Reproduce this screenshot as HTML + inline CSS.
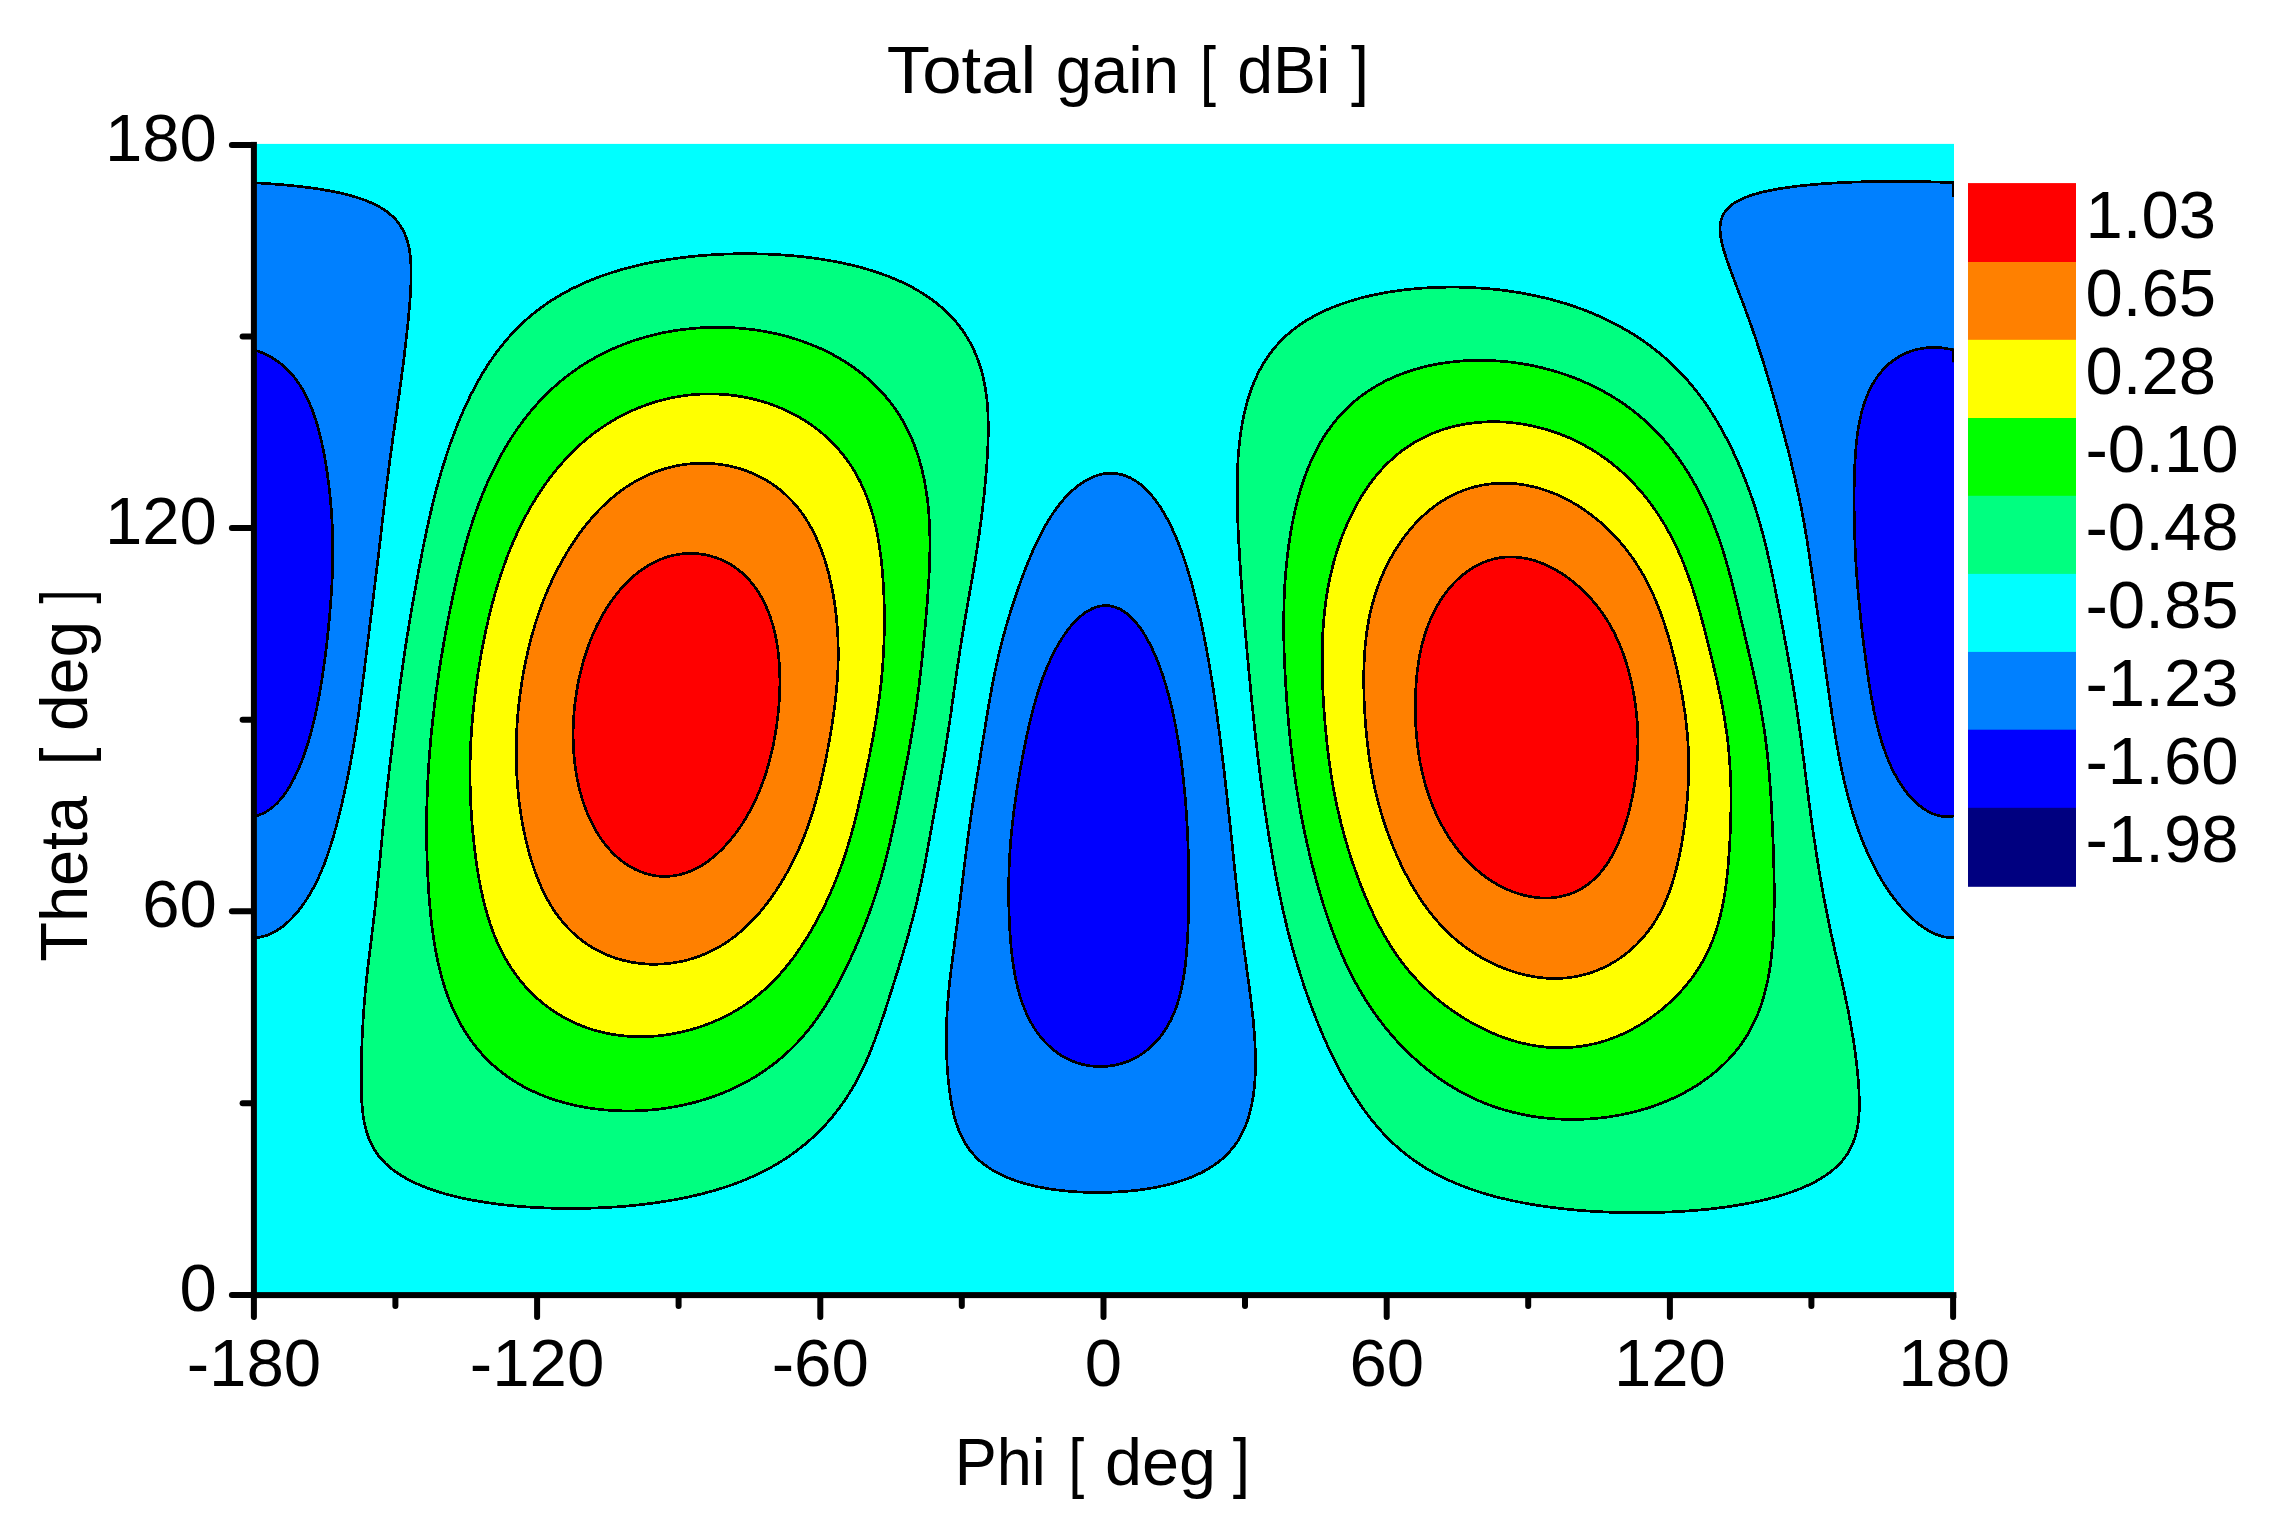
<!DOCTYPE html>
<html lang="en"><head><meta charset="utf-8"><title>Total gain [ dBi ]</title>
<style>html,body{margin:0;padding:0;background:#fff}body{width:2271px;height:1521px;overflow:hidden}svg{display:block}text{font-family:"Liberation Sans",sans-serif;fill:#000}</style></head><body>
<svg width="2271" height="1521" viewBox="0 0 2271 1521">
<rect width="2271" height="1521" fill="#fff"/>
<defs><clipPath id="pc"><rect x="251" y="143.9" width="1703" height="1148.6"/></clipPath></defs>
<rect x="254" y="143.9" width="1700" height="1150.6" fill="#00FFFF"/>
<g clip-path="url(#pc)" stroke="#000" stroke-width="2.7" stroke-linejoin="round" shape-rendering="crispEdges">
<path d="M606.0 1207.5C603.0 1207.7 600.0 1207.8 597.0 1207.9C594.0 1208.1 591.0 1208.2 588.0 1208.2C585.0 1208.3 582.0 1208.4 579.0 1208.4C576.0 1208.4 573.0 1208.5 570.0 1208.4C567.0 1208.4 564.0 1208.4 561.0 1208.4C558.0 1208.3 555.0 1208.3 552.0 1208.2C549.0 1208.1 546.0 1208.0 543.0 1207.8C540.0 1207.7 537.0 1207.6 534.0 1207.4C531.0 1207.2 528.0 1207.0 525.0 1206.8C522.0 1206.6 519.0 1206.3 516.0 1206.1C513.0 1205.8 510.0 1205.5 507.0 1205.2C504.1 1204.9 501.1 1204.5 498.1 1204.1C495.1 1203.8 492.1 1203.4 489.2 1202.9C486.2 1202.5 483.2 1202.0 480.3 1201.5C477.3 1201.0 474.3 1200.5 471.4 1200.0C468.4 1199.4 465.5 1198.8 462.6 1198.2C459.6 1197.5 456.7 1196.8 453.8 1196.1C450.9 1195.4 448.0 1194.6 445.1 1193.8C442.2 1193.0 439.3 1192.1 436.5 1191.2C433.6 1190.3 430.8 1189.3 427.9 1188.3C425.1 1187.2 422.3 1186.1 419.6 1184.9C416.8 1183.8 414.1 1182.5 411.4 1181.2C408.7 1179.8 406.1 1178.4 403.5 1176.9C400.9 1175.4 398.3 1173.8 395.9 1172.0C393.5 1170.3 391.1 1168.4 388.8 1166.5C386.5 1164.5 384.4 1162.4 382.4 1160.2C380.3 1158.0 378.4 1155.6 376.7 1153.2C375.0 1150.7 373.4 1148.1 372.0 1145.5C370.7 1142.8 369.5 1140.1 368.4 1137.2C367.3 1134.4 366.5 1131.6 365.7 1128.7C364.9 1125.8 364.4 1122.8 363.8 1119.8C363.3 1116.9 362.9 1113.9 362.6 1110.9C362.3 1107.9 362.0 1104.9 361.8 1101.9C361.6 1098.9 361.5 1095.9 361.4 1092.9C361.3 1089.9 361.3 1086.9 361.2 1083.9C361.2 1080.9 361.2 1077.9 361.2 1074.9C361.2 1071.9 361.3 1068.9 361.3 1065.9C361.4 1062.9 361.4 1059.9 361.5 1056.9C361.6 1053.9 361.7 1050.9 361.8 1047.9C361.9 1044.9 362.0 1041.9 362.1 1038.9C362.3 1035.9 362.4 1032.9 362.6 1029.9C362.7 1026.9 362.9 1023.9 363.1 1020.9C363.2 1017.9 363.4 1014.9 363.6 1011.9C363.9 1008.9 364.1 1005.9 364.3 1002.9C364.6 1000.0 364.8 997.0 365.1 994.0C365.4 991.0 365.7 988.0 366.0 985.0C366.3 982.0 366.6 979.0 366.9 976.0C367.3 973.1 367.6 970.1 367.9 967.1C368.3 964.1 368.6 961.1 369.0 958.2C369.4 955.2 369.7 952.2 370.1 949.2C370.5 946.2 370.8 943.2 371.2 940.3C371.6 937.3 371.9 934.3 372.3 931.3C372.7 928.3 373.0 925.4 373.4 922.4C373.7 919.4 374.1 916.4 374.4 913.4C374.8 910.5 375.1 907.5 375.4 904.5C375.8 901.5 376.1 898.5 376.4 895.5C376.7 892.5 377.0 889.6 377.3 886.6C377.6 883.6 377.9 880.6 378.2 877.6C378.5 874.6 378.8 871.6 379.1 868.6C379.4 865.6 379.7 862.7 380.0 859.7C380.2 856.7 380.5 853.7 380.8 850.7C381.1 847.7 381.4 844.7 381.7 841.7C381.9 838.7 382.2 835.8 382.5 832.8C382.8 829.8 383.1 826.8 383.4 823.8C383.7 820.8 384.0 817.8 384.3 814.8C384.6 811.9 384.9 808.9 385.3 805.9C385.6 802.9 385.9 799.9 386.2 796.9C386.6 793.9 386.9 791.0 387.2 788.0C387.6 785.0 387.9 782.0 388.3 779.0C388.6 776.0 389.0 773.1 389.3 770.1C389.7 767.1 390.0 764.1 390.4 761.1C390.7 758.1 391.1 755.2 391.5 752.2C391.8 749.2 392.2 746.2 392.6 743.2C392.9 740.3 393.3 737.3 393.7 734.3C394.0 731.3 394.4 728.3 394.8 725.4C395.2 722.4 395.6 719.4 395.9 716.4C396.3 713.5 396.7 710.5 397.1 707.5C397.5 704.5 397.9 701.5 398.2 698.6C398.6 695.6 399.0 692.6 399.4 689.6C399.8 686.7 400.2 683.7 400.6 680.7C401.1 677.7 401.5 674.8 401.9 671.8C402.3 668.8 402.7 665.8 403.2 662.9C403.6 659.9 404.0 656.9 404.5 654.0C404.9 651.0 405.4 648.0 405.8 645.0C406.3 642.1 406.8 639.1 407.2 636.1C407.7 633.2 408.2 630.2 408.7 627.3C409.1 624.3 409.6 621.3 410.1 618.4C410.6 615.4 411.1 612.4 411.6 609.5C412.1 606.5 412.7 603.6 413.2 600.6C413.7 597.7 414.2 594.7 414.8 591.7C415.3 588.8 415.8 585.8 416.4 582.9C416.9 579.9 417.4 577.0 418.0 574.0C418.5 571.1 419.1 568.1 419.7 565.2C420.2 562.2 420.8 559.3 421.4 556.3C421.9 553.4 422.5 550.4 423.1 547.5C423.7 544.5 424.3 541.6 424.9 538.7C425.5 535.7 426.1 532.8 426.8 529.8C427.4 526.9 428.0 524.0 428.7 521.0C429.4 518.1 430.0 515.2 430.7 512.3C431.4 509.3 432.1 506.4 432.8 503.5C433.5 500.6 434.2 497.7 435.0 494.8C435.7 491.8 436.5 488.9 437.3 486.0C438.0 483.1 438.8 480.2 439.7 477.4C440.5 474.5 441.3 471.6 442.2 468.7C443.1 465.8 443.9 463.0 444.9 460.1C445.8 457.2 446.7 454.4 447.7 451.5C448.6 448.7 449.6 445.9 450.6 443.0C451.6 440.2 452.6 437.4 453.7 434.6C454.7 431.7 455.8 428.9 456.9 426.2C458.0 423.4 459.2 420.6 460.3 417.8C461.5 415.0 462.7 412.3 463.9 409.5C465.1 406.8 466.4 404.1 467.7 401.4C468.9 398.6 470.3 395.9 471.6 393.3C473.0 390.6 474.4 387.9 475.8 385.3C477.2 382.6 478.7 380.0 480.2 377.4C481.7 374.8 483.2 372.2 484.8 369.7C486.4 367.1 488.0 364.6 489.7 362.1C491.4 359.6 493.1 357.2 494.8 354.7C496.6 352.3 498.4 349.9 500.2 347.5C502.1 345.2 504.0 342.8 505.9 340.5C507.9 338.3 509.9 336.0 511.9 333.8C514.0 331.6 516.0 329.4 518.2 327.3C520.3 325.2 522.5 323.1 524.7 321.1C526.9 319.1 529.2 317.1 531.5 315.2C533.8 313.3 536.2 311.4 538.5 309.6C540.9 307.8 543.4 306.0 545.8 304.3C548.3 302.6 550.8 300.9 553.3 299.3C555.9 297.7 558.4 296.2 561.0 294.7C563.6 293.2 566.3 291.7 568.9 290.3C571.6 288.9 574.3 287.6 577.0 286.3C579.7 285.0 582.4 283.7 585.2 282.5C587.9 281.3 590.7 280.2 593.5 279.1C596.3 278.0 599.1 276.9 601.9 275.9C604.8 274.9 607.6 273.9 610.5 273.0C613.3 272.1 616.2 271.2 619.1 270.3C621.9 269.5 624.8 268.7 627.7 267.9C630.6 267.1 633.6 266.4 636.5 265.7C639.4 265.0 642.3 264.4 645.3 263.7C648.2 263.1 651.1 262.5 654.1 261.9C657.0 261.4 660.0 260.9 663.0 260.4C665.9 259.9 668.9 259.4 671.9 259.0C674.8 258.5 677.8 258.1 680.8 257.8C683.8 257.4 686.7 257.0 689.7 256.7C692.7 256.4 695.7 256.1 698.7 255.8C701.7 255.6 704.7 255.3 707.7 255.1C710.7 254.9 713.7 254.7 716.7 254.5C719.7 254.4 722.7 254.2 725.7 254.1C728.7 254.0 731.7 253.9 734.7 253.8C737.7 253.8 740.7 253.7 743.7 253.7C746.7 253.7 749.7 253.7 752.7 253.8C755.7 253.8 758.7 253.9 761.7 254.0C764.7 254.0 767.7 254.1 770.7 254.3C773.7 254.4 776.7 254.6 779.7 254.8C782.7 255.0 785.7 255.2 788.7 255.4C791.7 255.7 794.7 255.9 797.6 256.2C800.6 256.5 803.6 256.9 806.6 257.2C809.6 257.6 812.6 258.0 815.5 258.4C818.5 258.8 821.5 259.2 824.4 259.7C827.4 260.2 830.4 260.7 833.3 261.2C836.3 261.8 839.2 262.4 842.2 263.0C845.1 263.6 848.0 264.3 851.0 264.9C853.9 265.6 856.8 266.4 859.7 267.1C862.6 267.9 865.5 268.7 868.4 269.6C871.2 270.4 874.1 271.3 876.9 272.3C879.8 273.3 882.6 274.2 885.4 275.3C888.3 276.3 891.1 277.4 893.8 278.6C896.6 279.8 899.3 281.0 902.1 282.2C904.8 283.5 907.5 284.8 910.1 286.2C912.8 287.6 915.4 289.1 918.0 290.6C920.6 292.1 923.2 293.7 925.7 295.4C928.2 297.0 930.6 298.7 933.0 300.5C935.4 302.3 937.8 304.2 940.1 306.1C942.4 308.1 944.6 310.1 946.8 312.2C948.9 314.2 951.0 316.4 953.1 318.6C955.1 320.8 957.0 323.1 958.9 325.5C960.7 327.9 962.5 330.3 964.2 332.8C965.8 335.3 967.4 337.8 968.9 340.4C970.4 343.0 971.8 345.7 973.1 348.4C974.4 351.1 975.6 353.9 976.7 356.6C977.8 359.4 978.9 362.3 979.8 365.1C980.7 368.0 981.6 370.9 982.3 373.8C983.1 376.7 983.7 379.6 984.3 382.6C984.9 385.5 985.4 388.5 985.8 391.4C986.3 394.4 986.7 397.4 987.0 400.4C987.3 403.4 987.5 406.3 987.7 409.3C987.9 412.3 988.0 415.3 988.1 418.3C988.2 421.3 988.3 424.3 988.3 427.3C988.3 430.4 988.3 433.4 988.2 436.4C988.1 439.4 988.0 442.4 987.9 445.4C987.8 448.4 987.7 451.4 987.5 454.4C987.3 457.4 987.1 460.4 986.9 463.3C986.7 466.3 986.5 469.3 986.2 472.3C986.0 475.3 985.7 478.3 985.4 481.3C985.2 484.3 984.9 487.3 984.6 490.3C984.3 493.3 984.0 496.2 983.6 499.2C983.3 502.2 983.0 505.2 982.6 508.2C982.2 511.2 981.9 514.1 981.5 517.1C981.1 520.1 980.7 523.1 980.3 526.1C979.9 529.0 979.5 532.0 979.1 535.0C978.7 538.0 978.2 540.9 977.8 543.9C977.3 546.9 976.9 549.8 976.4 552.8C976.0 555.8 975.5 558.7 975.0 561.7C974.5 564.7 974.0 567.6 973.5 570.6C973.0 573.5 972.5 576.5 972.0 579.5C971.5 582.4 971.0 585.4 970.4 588.3C969.9 591.3 969.4 594.2 968.9 597.2C968.4 600.2 967.8 603.1 967.3 606.1C966.8 609.0 966.3 612.0 965.8 614.9C965.3 617.9 964.8 620.9 964.3 623.8C963.8 626.8 963.3 629.8 962.8 632.7C962.3 635.7 961.8 638.6 961.4 641.6C960.9 644.6 960.4 647.5 960.0 650.5C959.5 653.5 959.1 656.4 958.6 659.4C958.2 662.4 957.7 665.4 957.3 668.3C956.9 671.3 956.5 674.3 956.0 677.2C955.6 680.2 955.2 683.2 954.8 686.2C954.3 689.1 953.9 692.1 953.5 695.1C953.1 698.1 952.7 701.0 952.2 704.0C951.8 707.0 951.4 710.0 951.0 712.9C950.5 715.9 950.1 718.9 949.7 721.8C949.2 724.8 948.8 727.8 948.3 730.7C947.8 733.7 947.4 736.7 946.9 739.6C946.4 742.6 946.0 745.6 945.5 748.5C945.0 751.5 944.5 754.5 944.0 757.4C943.5 760.4 943.0 763.3 942.5 766.3C942.0 769.3 941.5 772.2 940.9 775.2C940.4 778.1 939.9 781.1 939.4 784.1C938.9 787.0 938.3 790.0 937.8 792.9C937.3 795.9 936.7 798.8 936.2 801.8C935.7 804.7 935.1 807.7 934.6 810.7C934.1 813.6 933.6 816.6 933.0 819.5C932.5 822.5 932.0 825.4 931.4 828.4C930.9 831.3 930.4 834.3 929.8 837.3C929.3 840.2 928.8 843.2 928.2 846.1C927.7 849.1 927.1 852.0 926.6 855.0C926.0 857.9 925.5 860.9 924.9 863.8C924.3 866.8 923.8 869.7 923.2 872.7C922.6 875.6 922.0 878.6 921.4 881.5C920.8 884.4 920.1 887.4 919.5 890.3C918.8 893.2 918.2 896.2 917.5 899.1C916.8 902.0 916.1 904.9 915.4 907.9C914.7 910.8 914.0 913.7 913.2 916.6C912.5 919.5 911.7 922.4 910.9 925.3C910.2 928.2 909.4 931.1 908.6 934.0C907.8 936.9 906.9 939.8 906.1 942.7C905.3 945.5 904.4 948.4 903.6 951.3C902.7 954.2 901.9 957.1 901.0 959.9C900.1 962.8 899.3 965.7 898.4 968.6C897.5 971.4 896.6 974.3 895.7 977.2C894.8 980.0 893.9 982.9 893.0 985.8C892.1 988.6 891.2 991.5 890.3 994.3C889.4 997.2 888.5 1000.1 887.6 1002.9C886.6 1005.8 885.7 1008.6 884.8 1011.5C883.8 1014.3 882.9 1017.2 881.9 1020.0C880.9 1022.9 880.0 1025.7 879.0 1028.5C878.0 1031.4 876.9 1034.2 875.9 1037.0C874.9 1039.8 873.8 1042.7 872.7 1045.4C871.6 1048.2 870.5 1051.0 869.4 1053.8C868.2 1056.6 867.0 1059.3 865.8 1062.1C864.6 1064.8 863.3 1067.5 862.0 1070.2C860.7 1072.9 859.3 1075.6 857.9 1078.3C856.5 1080.9 855.1 1083.6 853.6 1086.2C852.1 1088.8 850.5 1091.3 848.9 1093.9C847.3 1096.4 845.7 1098.9 844.0 1101.4C842.3 1103.9 840.5 1106.3 838.7 1108.7C836.9 1111.1 835.1 1113.5 833.2 1115.8C831.3 1118.2 829.3 1120.4 827.3 1122.7C825.3 1124.9 823.3 1127.1 821.2 1129.3C819.1 1131.4 816.9 1133.5 814.8 1135.6C812.6 1137.6 810.3 1139.6 808.1 1141.6C805.8 1143.6 803.5 1145.5 801.1 1147.3C798.8 1149.2 796.4 1151.0 793.9 1152.8C791.5 1154.6 789.0 1156.3 786.5 1157.9C784.0 1159.6 781.5 1161.2 778.9 1162.8C776.4 1164.3 773.8 1165.8 771.1 1167.3C768.5 1168.7 765.9 1170.1 763.2 1171.5C760.5 1172.8 757.8 1174.2 755.1 1175.4C752.3 1176.7 749.6 1177.9 746.8 1179.0C744.1 1180.2 741.3 1181.3 738.5 1182.4C735.7 1183.5 732.8 1184.5 730.0 1185.5C727.2 1186.5 724.3 1187.4 721.5 1188.3C718.6 1189.2 715.7 1190.1 712.8 1190.9C709.9 1191.7 707.0 1192.5 704.1 1193.3C701.2 1194.0 698.3 1194.7 695.4 1195.4C692.5 1196.1 689.5 1196.8 686.6 1197.4C683.7 1198.0 680.7 1198.6 677.8 1199.1C674.8 1199.7 671.9 1200.2 668.9 1200.7C665.9 1201.2 663.0 1201.7 660.0 1202.1C657.0 1202.6 654.1 1203.0 651.1 1203.4C648.1 1203.8 645.1 1204.2 642.1 1204.5C639.2 1204.8 636.2 1205.2 633.2 1205.4C630.2 1205.7 627.2 1206.0 624.2 1206.3C621.2 1206.5 618.3 1206.7 615.2 1207.0C612.2 1207.2 609.0 1207.3 606.0 1207.5Z" fill="#00FF80"/>
<path d="M1655.0 1212.5C1652.0 1212.6 1649.0 1212.6 1646.0 1212.7C1643.0 1212.7 1640.0 1212.7 1637.0 1212.7C1634.0 1212.7 1631.0 1212.7 1628.0 1212.6C1625.0 1212.6 1622.0 1212.5 1619.0 1212.5C1616.0 1212.4 1613.0 1212.3 1610.0 1212.2C1607.0 1212.1 1604.0 1211.9 1601.0 1211.8C1598.0 1211.6 1595.0 1211.4 1592.0 1211.3C1589.0 1211.1 1586.0 1210.8 1583.0 1210.6C1580.0 1210.4 1577.0 1210.1 1574.0 1209.9C1571.0 1209.6 1568.0 1209.3 1565.0 1209.0C1562.0 1208.6 1559.1 1208.3 1556.1 1207.9C1553.1 1207.6 1550.1 1207.2 1547.1 1206.8C1544.2 1206.4 1541.2 1205.9 1538.2 1205.5C1535.3 1205.0 1532.3 1204.5 1529.3 1204.0C1526.4 1203.5 1523.4 1202.9 1520.5 1202.3C1517.5 1201.8 1514.6 1201.2 1511.7 1200.5C1508.7 1199.9 1505.8 1199.2 1502.9 1198.5C1500.0 1197.8 1497.0 1197.1 1494.1 1196.3C1491.2 1195.5 1488.3 1194.7 1485.5 1193.8C1482.6 1193.0 1479.7 1192.1 1476.9 1191.2C1474.0 1190.2 1471.2 1189.3 1468.3 1188.2C1465.5 1187.2 1462.7 1186.1 1459.9 1185.0C1457.1 1183.9 1454.4 1182.8 1451.6 1181.5C1448.9 1180.3 1446.1 1179.1 1443.4 1177.7C1440.8 1176.4 1438.1 1175.1 1435.4 1173.6C1432.8 1172.2 1430.2 1170.7 1427.6 1169.2C1425.0 1167.7 1422.5 1166.1 1420.0 1164.4C1417.4 1162.8 1415.0 1161.1 1412.5 1159.3C1410.1 1157.5 1407.7 1155.7 1405.4 1153.9C1403.0 1152.0 1400.7 1150.1 1398.4 1148.1C1396.2 1146.1 1394.0 1144.1 1391.8 1142.0C1389.6 1139.9 1387.5 1137.8 1385.4 1135.7C1383.3 1133.5 1381.3 1131.3 1379.3 1129.0C1377.3 1126.8 1375.4 1124.5 1373.5 1122.2C1371.6 1119.8 1369.7 1117.5 1367.9 1115.1C1366.1 1112.7 1364.3 1110.3 1362.6 1107.8C1360.8 1105.4 1359.2 1102.9 1357.5 1100.4C1355.8 1097.9 1354.2 1095.3 1352.6 1092.8C1351.0 1090.2 1349.5 1087.7 1348.0 1085.1C1346.5 1082.5 1345.0 1079.9 1343.5 1077.2C1342.0 1074.6 1340.6 1072.0 1339.2 1069.3C1337.8 1066.7 1336.4 1064.0 1335.1 1061.3C1333.7 1058.6 1332.4 1055.9 1331.1 1053.2C1329.8 1050.5 1328.6 1047.8 1327.3 1045.1C1326.1 1042.3 1324.8 1039.6 1323.6 1036.8C1322.4 1034.1 1321.2 1031.3 1320.1 1028.5C1318.9 1025.8 1317.8 1023.0 1316.7 1020.2C1315.6 1017.4 1314.5 1014.6 1313.4 1011.8C1312.3 1009.0 1311.2 1006.2 1310.2 1003.4C1309.2 1000.6 1308.2 997.7 1307.2 994.9C1306.2 992.1 1305.2 989.2 1304.2 986.4C1303.3 983.5 1302.3 980.7 1301.4 977.8C1300.5 975.0 1299.6 972.1 1298.7 969.2C1297.8 966.4 1296.9 963.5 1296.1 960.6C1295.2 957.7 1294.4 954.9 1293.6 952.0C1292.7 949.1 1291.9 946.2 1291.2 943.3C1290.4 940.4 1289.6 937.5 1288.9 934.6C1288.1 931.7 1287.4 928.7 1286.7 925.8C1286.0 922.9 1285.3 920.0 1284.6 917.1C1283.9 914.1 1283.2 911.2 1282.6 908.3C1281.9 905.3 1281.3 902.4 1280.7 899.5C1280.0 896.5 1279.4 893.6 1278.8 890.7C1278.2 887.7 1277.7 884.8 1277.1 881.8C1276.5 878.9 1275.9 875.9 1275.4 873.0C1274.8 870.0 1274.3 867.1 1273.7 864.1C1273.2 861.1 1272.7 858.2 1272.2 855.2C1271.7 852.3 1271.1 849.3 1270.7 846.4C1270.2 843.4 1269.7 840.4 1269.2 837.5C1268.7 834.5 1268.2 831.5 1267.8 828.6C1267.3 825.6 1266.8 822.6 1266.4 819.7C1265.9 816.7 1265.5 813.7 1265.0 810.8C1264.6 807.8 1264.2 804.8 1263.7 801.8C1263.3 798.9 1262.9 795.9 1262.5 792.9C1262.1 789.9 1261.7 787.0 1261.3 784.0C1260.9 781.0 1260.5 778.0 1260.1 775.0C1259.7 772.1 1259.4 769.1 1259.0 766.1C1258.6 763.1 1258.3 760.1 1257.9 757.2C1257.5 754.2 1257.2 751.2 1256.9 748.2C1256.5 745.2 1256.2 742.2 1255.8 739.3C1255.5 736.3 1255.2 733.3 1254.8 730.3C1254.5 727.3 1254.2 724.3 1253.9 721.3C1253.6 718.4 1253.3 715.4 1253.0 712.4C1252.6 709.4 1252.3 706.4 1252.0 703.4C1251.7 700.4 1251.4 697.4 1251.1 694.5C1250.8 691.5 1250.6 688.5 1250.3 685.5C1250.0 682.5 1249.7 679.5 1249.4 676.5C1249.1 673.5 1248.8 670.5 1248.5 667.5C1248.3 664.6 1248.0 661.6 1247.7 658.6C1247.4 655.6 1247.2 652.6 1246.9 649.6C1246.6 646.6 1246.3 643.6 1246.1 640.6C1245.8 637.6 1245.5 634.6 1245.3 631.7C1245.0 628.7 1244.8 625.7 1244.5 622.7C1244.3 619.7 1244.0 616.7 1243.8 613.7C1243.5 610.7 1243.3 607.7 1243.0 604.7C1242.8 601.7 1242.6 598.7 1242.3 595.7C1242.1 592.7 1241.9 589.7 1241.7 586.7C1241.4 583.8 1241.2 580.8 1241.0 577.8C1240.8 574.8 1240.6 571.8 1240.4 568.8C1240.2 565.8 1240.0 562.8 1239.8 559.8C1239.6 556.8 1239.5 553.8 1239.3 550.8C1239.1 547.8 1238.9 544.8 1238.8 541.8C1238.6 538.8 1238.5 535.8 1238.3 532.8C1238.2 529.8 1238.0 526.8 1237.9 523.8C1237.8 520.8 1237.7 517.8 1237.6 514.8C1237.5 511.8 1237.4 508.8 1237.3 505.8C1237.3 502.8 1237.2 499.8 1237.2 496.8C1237.2 493.8 1237.2 490.8 1237.2 487.8C1237.2 484.8 1237.2 481.8 1237.3 478.8C1237.3 475.7 1237.4 472.7 1237.5 469.7C1237.6 466.7 1237.8 463.7 1238.0 460.7C1238.1 457.7 1238.3 454.7 1238.6 451.8C1238.8 448.8 1239.1 445.8 1239.5 442.8C1239.8 439.8 1240.2 436.8 1240.6 433.8C1241.0 430.9 1241.5 427.9 1242.0 424.9C1242.5 422.0 1243.1 419.0 1243.7 416.1C1244.3 413.2 1245.0 410.2 1245.7 407.3C1246.5 404.4 1247.3 401.5 1248.1 398.6C1249.0 395.8 1249.9 392.9 1251.0 390.1C1252.0 387.3 1253.0 384.5 1254.2 381.7C1255.4 378.9 1256.6 376.2 1258.0 373.5C1259.3 370.8 1260.7 368.1 1262.2 365.5C1263.7 362.9 1265.3 360.4 1267.0 357.9C1268.7 355.4 1270.4 353.0 1272.3 350.6C1274.1 348.3 1276.1 346.0 1278.1 343.8C1280.1 341.5 1282.2 339.4 1284.4 337.3C1286.6 335.3 1288.9 333.3 1291.2 331.4C1293.5 329.5 1295.9 327.7 1298.3 325.9C1300.8 324.2 1303.3 322.5 1305.8 320.9C1308.4 319.3 1311.0 317.8 1313.6 316.4C1316.2 314.9 1318.9 313.5 1321.6 312.2C1324.3 310.9 1327.1 309.7 1329.8 308.5C1332.6 307.4 1335.4 306.2 1338.2 305.2C1341.0 304.1 1343.8 303.2 1346.7 302.2C1349.6 301.3 1352.4 300.4 1355.3 299.6C1358.2 298.7 1361.1 297.9 1364.0 297.2C1366.9 296.5 1369.8 295.8 1372.8 295.1C1375.7 294.5 1378.7 293.9 1381.6 293.3C1384.6 292.8 1387.5 292.3 1390.5 291.8C1393.4 291.3 1396.4 290.9 1399.4 290.5C1402.4 290.1 1405.4 289.7 1408.3 289.4C1411.3 289.1 1414.3 288.8 1417.3 288.5C1420.3 288.3 1423.3 288.0 1426.3 287.9C1429.3 287.7 1432.3 287.5 1435.3 287.4C1438.3 287.3 1441.3 287.2 1444.3 287.2C1447.3 287.1 1450.3 287.1 1453.3 287.1C1456.3 287.1 1459.3 287.2 1462.3 287.2C1465.3 287.3 1468.3 287.4 1471.3 287.6C1474.3 287.7 1477.3 287.9 1480.3 288.1C1483.3 288.3 1486.3 288.5 1489.3 288.8C1492.3 289.1 1495.3 289.4 1498.3 289.7C1501.2 290.1 1504.2 290.4 1507.2 290.8C1510.2 291.3 1513.1 291.7 1516.1 292.2C1519.1 292.6 1522.0 293.1 1525.0 293.7C1527.9 294.2 1530.9 294.8 1533.8 295.4C1536.8 296.0 1539.7 296.7 1542.6 297.4C1545.6 298.1 1548.5 298.8 1551.4 299.6C1554.3 300.3 1557.2 301.1 1560.1 302.0C1562.9 302.8 1565.8 303.7 1568.7 304.6C1571.5 305.5 1574.4 306.5 1577.2 307.5C1580.0 308.5 1582.9 309.5 1585.7 310.6C1588.5 311.7 1591.2 312.8 1594.0 314.0C1596.8 315.2 1599.5 316.4 1602.3 317.6C1605.0 318.9 1607.7 320.2 1610.4 321.5C1613.1 322.9 1615.7 324.2 1618.4 325.7C1621.0 327.1 1623.6 328.6 1626.2 330.1C1628.8 331.6 1631.4 333.1 1633.9 334.7C1636.5 336.3 1639.0 338.0 1641.5 339.7C1644.0 341.4 1646.4 343.1 1648.8 344.9C1651.3 346.7 1653.6 348.5 1656.0 350.4C1658.4 352.2 1660.7 354.1 1663.0 356.1C1665.2 358.0 1667.5 360.0 1669.7 362.1C1671.9 364.1 1674.1 366.2 1676.2 368.3C1678.3 370.4 1680.4 372.6 1682.5 374.8C1684.5 377.0 1686.5 379.2 1688.5 381.5C1690.5 383.7 1692.4 386.0 1694.3 388.4C1696.2 390.7 1698.0 393.1 1699.8 395.5C1701.6 397.9 1703.4 400.3 1705.1 402.8C1706.8 405.2 1708.5 407.7 1710.1 410.3C1711.8 412.8 1713.4 415.3 1714.9 417.9C1716.5 420.4 1718.0 423.0 1719.5 425.6C1721.0 428.2 1722.5 430.9 1723.9 433.5C1725.3 436.1 1726.7 438.8 1728.1 441.5C1729.5 444.1 1730.8 446.8 1732.1 449.5C1733.4 452.3 1734.7 455.0 1735.9 457.7C1737.2 460.4 1738.4 463.2 1739.6 466.0C1740.7 468.7 1741.9 471.5 1743.0 474.3C1744.2 477.0 1745.3 479.8 1746.3 482.6C1747.4 485.4 1748.5 488.3 1749.5 491.1C1750.5 493.9 1751.5 496.7 1752.5 499.6C1753.4 502.4 1754.4 505.3 1755.3 508.1C1756.2 511.0 1757.1 513.9 1758.0 516.8C1758.8 519.6 1759.7 522.5 1760.5 525.4C1761.3 528.3 1762.1 531.2 1762.8 534.1C1763.6 537.0 1764.4 539.9 1765.1 542.8C1765.8 545.7 1766.5 548.7 1767.2 551.6C1767.9 554.5 1768.5 557.4 1769.2 560.4C1769.9 563.3 1770.5 566.2 1771.1 569.2C1771.8 572.1 1772.4 575.0 1773.0 578.0C1773.6 580.9 1774.2 583.9 1774.8 586.8C1775.3 589.8 1775.9 592.7 1776.5 595.7C1777.1 598.6 1777.7 601.6 1778.2 604.5C1778.8 607.5 1779.4 610.4 1779.9 613.4C1780.5 616.3 1781.0 619.3 1781.6 622.2C1782.2 625.2 1782.7 628.1 1783.3 631.1C1783.8 634.0 1784.4 637.0 1784.9 639.9C1785.5 642.9 1786.0 645.8 1786.6 648.8C1787.1 651.7 1787.6 654.7 1788.2 657.6C1788.7 660.6 1789.2 663.6 1789.8 666.5C1790.3 669.5 1790.8 672.4 1791.3 675.4C1791.8 678.4 1792.3 681.3 1792.8 684.3C1793.3 687.2 1793.8 690.2 1794.3 693.2C1794.7 696.1 1795.2 699.1 1795.7 702.1C1796.1 705.0 1796.6 708.0 1797.0 711.0C1797.5 713.9 1797.9 716.9 1798.3 719.9C1798.7 722.9 1799.2 725.8 1799.6 728.8C1800.0 731.8 1800.4 734.8 1800.8 737.7C1801.2 740.7 1801.6 743.7 1802.0 746.7C1802.3 749.7 1802.7 752.6 1803.1 755.6C1803.5 758.6 1803.9 761.6 1804.3 764.6C1804.6 767.5 1805.0 770.5 1805.4 773.5C1805.8 776.5 1806.1 779.4 1806.5 782.4C1806.9 785.4 1807.3 788.4 1807.7 791.4C1808.1 794.3 1808.4 797.3 1808.8 800.3C1809.2 803.3 1809.6 806.3 1810.0 809.2C1810.4 812.2 1810.8 815.2 1811.2 818.2C1811.6 821.1 1812.1 824.1 1812.5 827.1C1812.9 830.1 1813.3 833.0 1813.8 836.0C1814.2 839.0 1814.6 841.9 1815.1 844.9C1815.5 847.9 1816.0 850.9 1816.4 853.8C1816.9 856.8 1817.4 859.8 1817.9 862.7C1818.3 865.7 1818.8 868.6 1819.3 871.6C1819.8 874.6 1820.3 877.5 1820.8 880.5C1821.3 883.5 1821.9 886.4 1822.4 889.4C1822.9 892.3 1823.5 895.3 1824.0 898.2C1824.6 901.2 1825.1 904.1 1825.7 907.1C1826.3 910.0 1826.9 913.0 1827.5 915.9C1828.1 918.9 1828.7 921.8 1829.3 924.7C1829.9 927.7 1830.5 930.6 1831.1 933.6C1831.8 936.5 1832.4 939.4 1833.1 942.4C1833.7 945.3 1834.4 948.2 1835.0 951.2C1835.7 954.1 1836.4 957.0 1837.0 959.9C1837.7 962.9 1838.4 965.8 1839.0 968.7C1839.7 971.7 1840.4 974.6 1841.0 977.5C1841.7 980.4 1842.4 983.4 1843.0 986.3C1843.7 989.2 1844.3 992.2 1844.9 995.1C1845.6 998.0 1846.2 1001.0 1846.8 1003.9C1847.4 1006.9 1848.0 1009.8 1848.6 1012.8C1849.1 1015.7 1849.7 1018.7 1850.2 1021.6C1850.8 1024.6 1851.3 1027.5 1851.8 1030.5C1852.3 1033.4 1852.8 1036.4 1853.3 1039.4C1853.7 1042.3 1854.2 1045.3 1854.6 1048.3C1855.0 1051.3 1855.4 1054.2 1855.8 1057.2C1856.2 1060.2 1856.5 1063.2 1856.9 1066.2C1857.2 1069.1 1857.5 1072.1 1857.8 1075.1C1858.1 1078.1 1858.3 1081.1 1858.5 1084.1C1858.8 1087.1 1858.9 1090.1 1859.1 1093.1C1859.2 1096.1 1859.3 1099.1 1859.3 1102.1C1859.3 1105.1 1859.3 1108.1 1859.2 1111.1C1859.0 1114.1 1858.8 1117.1 1858.5 1120.1C1858.2 1123.1 1857.7 1126.1 1857.1 1129.0C1856.5 1131.9 1855.8 1134.9 1854.9 1137.7C1854.0 1140.6 1852.9 1143.4 1851.7 1146.1C1850.4 1148.8 1848.9 1151.5 1847.3 1154.0C1845.7 1156.5 1843.9 1158.9 1841.9 1161.2C1840.0 1163.5 1837.8 1165.6 1835.6 1167.6C1833.4 1169.7 1831.0 1171.6 1828.6 1173.3C1826.2 1175.1 1823.7 1176.8 1821.1 1178.3C1818.6 1179.9 1816.0 1181.4 1813.3 1182.7C1810.6 1184.1 1807.9 1185.4 1805.2 1186.6C1802.4 1187.8 1799.6 1189.0 1796.8 1190.1C1794.0 1191.1 1791.2 1192.1 1788.3 1193.1C1785.5 1194.1 1782.6 1195.0 1779.8 1195.8C1776.9 1196.7 1774.0 1197.5 1771.1 1198.2C1768.2 1199.0 1765.2 1199.7 1762.3 1200.4C1759.4 1201.1 1756.5 1201.7 1753.5 1202.3C1750.6 1202.9 1747.6 1203.5 1744.7 1204.0C1741.7 1204.5 1738.8 1205.0 1735.8 1205.5C1732.8 1206.0 1729.9 1206.4 1726.9 1206.9C1723.9 1207.3 1720.9 1207.7 1717.9 1208.0C1715.0 1208.4 1712.0 1208.8 1709.0 1209.1C1706.0 1209.4 1703.0 1209.7 1700.0 1210.0C1697.0 1210.2 1694.0 1210.5 1691.1 1210.7C1688.1 1210.9 1685.1 1211.2 1682.1 1211.3C1679.1 1211.5 1676.1 1211.7 1673.1 1211.8C1670.1 1212.0 1667.1 1212.1 1664.1 1212.2C1661.1 1212.3 1658.0 1212.4 1655.0 1212.5Z" fill="#00FF80"/>
<path d="M643.0 1110.5C639.9 1110.7 637.0 1110.8 634.0 1110.9C631.0 1111.0 628.0 1111.0 625.0 1110.9C622.0 1110.9 619.0 1110.8 616.0 1110.7C613.0 1110.6 610.1 1110.4 607.1 1110.1C604.1 1109.9 601.1 1109.6 598.1 1109.2C595.1 1108.9 592.2 1108.5 589.2 1108.0C586.3 1107.6 583.3 1107.0 580.4 1106.5C577.4 1105.9 574.5 1105.3 571.6 1104.6C568.7 1103.9 565.7 1103.1 562.9 1102.3C560.0 1101.5 557.1 1100.7 554.3 1099.7C551.4 1098.8 548.6 1097.8 545.8 1096.7C543.0 1095.7 540.2 1094.5 537.5 1093.3C534.7 1092.1 532.0 1090.9 529.3 1089.6C526.6 1088.2 524.0 1086.8 521.4 1085.4C518.7 1083.9 516.2 1082.3 513.6 1080.7C511.1 1079.1 508.6 1077.4 506.2 1075.7C503.8 1073.9 501.4 1072.1 499.1 1070.2C496.7 1068.4 494.5 1066.4 492.2 1064.4C490.0 1062.3 487.9 1060.3 485.8 1058.1C483.7 1056.0 481.7 1053.8 479.7 1051.5C477.8 1049.2 475.9 1046.9 474.0 1044.5C472.2 1042.1 470.4 1039.7 468.8 1037.2C467.1 1034.8 465.4 1032.2 463.9 1029.7C462.3 1027.1 460.8 1024.5 459.4 1021.9C458.0 1019.3 456.6 1016.6 455.3 1013.9C454.0 1011.2 452.8 1008.5 451.6 1005.7C450.4 1002.9 449.3 1000.2 448.2 997.4C447.2 994.6 446.2 991.7 445.2 988.9C444.3 986.0 443.4 983.2 442.6 980.3C441.7 977.4 440.9 974.5 440.2 971.6C439.5 968.7 438.8 965.8 438.1 962.9C437.5 960.0 436.8 957.0 436.3 954.1C435.7 951.1 435.2 948.2 434.7 945.2C434.2 942.3 433.7 939.3 433.3 936.4C432.9 933.4 432.5 930.4 432.1 927.4C431.7 924.5 431.4 921.5 431.0 918.5C430.7 915.5 430.4 912.6 430.2 909.6C429.9 906.6 429.6 903.6 429.4 900.6C429.1 897.6 428.9 894.6 428.7 891.6C428.5 888.7 428.3 885.7 428.2 882.7C428.0 879.7 427.8 876.7 427.7 873.7C427.5 870.7 427.4 867.7 427.3 864.7C427.2 861.7 427.1 858.7 427.0 855.7C426.9 852.7 426.8 849.7 426.8 846.7C426.7 843.7 426.7 840.7 426.6 837.7C426.6 834.8 426.6 831.8 426.6 828.8C426.6 825.8 426.6 822.8 426.6 819.8C426.7 816.8 426.7 813.8 426.8 810.8C426.8 807.8 426.9 804.8 427.0 801.8C427.1 798.8 427.2 795.8 427.3 792.8C427.4 789.8 427.5 786.8 427.7 783.8C427.8 780.8 428.0 777.8 428.1 774.8C428.3 771.8 428.5 768.9 428.7 765.9C428.9 762.9 429.1 759.9 429.3 756.9C429.6 753.9 429.8 750.9 430.1 747.9C430.3 745.0 430.6 742.0 430.8 739.0C431.1 736.0 431.4 733.0 431.7 730.0C432.0 727.1 432.3 724.1 432.7 721.1C433.0 718.1 433.3 715.1 433.7 712.2C434.0 709.2 434.4 706.2 434.7 703.2C435.1 700.3 435.5 697.3 435.9 694.3C436.3 691.3 436.7 688.4 437.1 685.4C437.5 682.4 437.9 679.5 438.4 676.5C438.8 673.5 439.3 670.6 439.7 667.6C440.2 664.7 440.7 661.7 441.1 658.7C441.6 655.8 442.1 652.8 442.6 649.9C443.1 646.9 443.6 644.0 444.1 641.0C444.7 638.1 445.2 635.1 445.7 632.2C446.3 629.2 446.8 626.3 447.4 623.3C447.9 620.4 448.5 617.4 449.1 614.5C449.7 611.6 450.3 608.6 450.9 605.7C451.5 602.7 452.1 599.8 452.7 596.9C453.4 594.0 454.0 591.0 454.7 588.1C455.3 585.2 456.0 582.3 456.7 579.3C457.3 576.4 458.0 573.5 458.7 570.6C459.4 567.7 460.2 564.8 460.9 561.9C461.6 559.0 462.4 556.1 463.2 553.2C464.0 550.3 464.8 547.4 465.6 544.5C466.4 541.6 467.2 538.7 468.1 535.9C468.9 533.0 469.8 530.1 470.7 527.3C471.6 524.4 472.6 521.6 473.5 518.7C474.5 515.9 475.4 513.1 476.5 510.2C477.5 507.4 478.5 504.6 479.6 501.8C480.6 499.0 481.7 496.2 482.9 493.4C484.0 490.7 485.1 487.9 486.3 485.1C487.5 482.4 488.8 479.7 490.0 476.9C491.3 474.2 492.6 471.5 493.9 468.8C495.2 466.1 496.6 463.5 498.0 460.8C499.4 458.2 500.8 455.5 502.3 452.9C503.7 450.3 505.2 447.7 506.8 445.1C508.3 442.6 509.9 440.0 511.5 437.5C513.2 435.0 514.8 432.5 516.5 430.0C518.2 427.6 520.0 425.1 521.8 422.7C523.5 420.3 525.4 417.9 527.2 415.6C529.1 413.2 531.0 410.9 533.0 408.7C534.9 406.4 536.9 404.1 538.9 401.9C541.0 399.7 543.0 397.6 545.1 395.4C547.3 393.3 549.4 391.2 551.6 389.2C553.8 387.2 556.0 385.2 558.3 383.2C560.6 381.3 562.9 379.3 565.3 377.5C567.6 375.6 570.0 373.8 572.4 372.1C574.9 370.3 577.3 368.6 579.8 366.9C582.3 365.3 584.8 363.7 587.4 362.1C590.0 360.5 592.5 359.0 595.2 357.6C597.8 356.1 600.4 354.7 603.1 353.4C605.8 352.0 608.5 350.8 611.2 349.5C614.0 348.3 616.7 347.1 619.5 346.0C622.3 344.8 625.1 343.7 627.9 342.7C630.7 341.7 633.5 340.7 636.4 339.8C639.2 338.9 642.1 338.0 645.0 337.2C647.9 336.4 650.8 335.6 653.7 334.9C656.6 334.2 659.5 333.5 662.4 332.9C665.4 332.3 668.3 331.7 671.3 331.2C674.2 330.7 677.2 330.3 680.2 329.9C683.1 329.5 686.1 329.1 689.1 328.8C692.1 328.5 695.0 328.2 698.0 328.0C701.0 327.8 704.0 327.6 707.0 327.5C710.0 327.4 713.0 327.3 716.0 327.3C719.0 327.3 722.0 327.3 725.0 327.4C728.0 327.5 731.0 327.6 734.0 327.8C737.0 328.0 740.0 328.2 742.9 328.5C745.9 328.8 748.9 329.1 751.9 329.5C754.8 329.9 757.8 330.3 760.8 330.8C763.7 331.3 766.7 331.8 769.6 332.4C772.6 333.0 775.5 333.6 778.4 334.3C781.3 335.0 784.2 335.7 787.1 336.5C790.0 337.3 792.9 338.2 795.7 339.1C798.6 340.0 801.4 341.0 804.2 342.0C807.1 343.0 809.9 344.1 812.6 345.2C815.4 346.3 818.2 347.5 820.9 348.7C823.6 350.0 826.3 351.3 829.0 352.7C831.7 354.0 834.3 355.4 836.9 356.9C839.5 358.4 842.1 359.9 844.6 361.5C847.2 363.1 849.7 364.7 852.1 366.4C854.6 368.2 857.0 369.9 859.4 371.7C861.8 373.6 864.1 375.5 866.4 377.4C868.7 379.3 870.9 381.3 873.1 383.4C875.3 385.4 877.4 387.6 879.5 389.7C881.5 391.9 883.6 394.1 885.5 396.4C887.5 398.7 889.3 401.0 891.2 403.4C893.0 405.8 894.7 408.2 896.4 410.7C898.1 413.1 899.7 415.7 901.3 418.2C902.8 420.8 904.3 423.4 905.7 426.1C907.1 428.7 908.4 431.4 909.7 434.1C910.9 436.8 912.1 439.6 913.3 442.4C914.4 445.2 915.4 448.0 916.4 450.8C917.4 453.6 918.3 456.5 919.2 459.3C920.0 462.2 920.8 465.1 921.6 468.0C922.3 470.9 923.0 473.8 923.6 476.8C924.2 479.7 924.8 482.6 925.3 485.6C925.9 488.5 926.3 491.5 926.7 494.5C927.2 497.4 927.5 500.4 927.9 503.4C928.2 506.4 928.5 509.4 928.7 512.3C929.0 515.3 929.2 518.3 929.3 521.3C929.5 524.3 929.6 527.3 929.7 530.3C929.8 533.3 929.9 536.3 929.9 539.3C930.0 542.3 930.0 545.3 929.9 548.3C929.9 551.3 929.8 554.3 929.8 557.3C929.7 560.3 929.6 563.2 929.5 566.2C929.4 569.2 929.2 572.2 929.1 575.2C928.9 578.2 928.7 581.2 928.5 584.2C928.4 587.2 928.1 590.2 927.9 593.2C927.7 596.2 927.5 599.1 927.3 602.1C927.0 605.1 926.8 608.1 926.5 611.1C926.3 614.1 926.0 617.1 925.8 620.1C925.5 623.0 925.3 626.0 925.0 629.0C924.7 632.0 924.4 635.0 924.1 638.0C923.9 640.9 923.6 643.9 923.3 646.9C923.0 649.9 922.7 652.9 922.4 655.9C922.1 658.8 921.7 661.8 921.4 664.8C921.1 667.8 920.8 670.8 920.4 673.7C920.1 676.7 919.7 679.7 919.4 682.7C919.0 685.6 918.6 688.6 918.2 691.6C917.9 694.6 917.5 697.5 917.1 700.5C916.6 703.5 916.2 706.4 915.8 709.4C915.4 712.4 914.9 715.3 914.4 718.3C914.0 721.2 913.5 724.2 913.0 727.2C912.5 730.1 912.0 733.1 911.5 736.0C911.0 739.0 910.5 741.9 909.9 744.9C909.4 747.8 908.9 750.8 908.3 753.7C907.7 756.7 907.2 759.6 906.6 762.6C906.0 765.5 905.5 768.4 904.9 771.4C904.3 774.3 903.7 777.3 903.1 780.2C902.5 783.1 902.0 786.1 901.4 789.0C900.8 791.9 900.2 794.9 899.6 797.8C898.9 800.7 898.3 803.7 897.7 806.6C897.1 809.6 896.5 812.5 895.9 815.4C895.3 818.3 894.6 821.3 894.0 824.2C893.4 827.1 892.7 830.1 892.1 833.0C891.4 835.9 890.7 838.8 890.1 841.8C889.4 844.7 888.7 847.6 888.0 850.5C887.3 853.4 886.6 856.3 885.8 859.2C885.1 862.1 884.3 865.0 883.6 867.9C882.8 870.8 882.0 873.7 881.2 876.6C880.3 879.5 879.5 882.3 878.6 885.2C877.7 888.1 876.9 890.9 875.9 893.8C875.0 896.7 874.1 899.5 873.1 902.3C872.1 905.2 871.2 908.0 870.1 910.8C869.1 913.6 868.1 916.5 867.0 919.3C866.0 922.1 864.9 924.9 863.8 927.6C862.7 930.4 861.6 933.2 860.4 936.0C859.3 938.7 858.1 941.5 856.9 944.3C855.7 947.0 854.5 949.8 853.3 952.5C852.1 955.2 850.8 957.9 849.6 960.7C848.3 963.4 847.0 966.1 845.7 968.8C844.4 971.5 843.0 974.2 841.7 976.8C840.3 979.5 838.9 982.2 837.5 984.8C836.1 987.4 834.7 990.1 833.2 992.7C831.7 995.3 830.2 997.9 828.7 1000.5C827.2 1003.0 825.6 1005.6 824.0 1008.1C822.4 1010.6 820.7 1013.1 819.0 1015.6C817.3 1018.1 815.6 1020.5 813.8 1022.9C812.0 1025.3 810.2 1027.7 808.3 1030.0C806.4 1032.4 804.5 1034.7 802.5 1036.9C800.6 1039.2 798.5 1041.4 796.5 1043.6C794.4 1045.7 792.3 1047.9 790.1 1049.9C788.0 1052.0 785.7 1054.0 783.5 1056.0C781.2 1058.0 778.9 1059.9 776.6 1061.8C774.3 1063.7 771.9 1065.5 769.4 1067.2C767.0 1069.0 764.6 1070.7 762.1 1072.4C759.6 1074.0 757.0 1075.6 754.5 1077.2C751.9 1078.7 749.3 1080.2 746.7 1081.7C744.1 1083.1 741.4 1084.5 738.7 1085.8C736.0 1087.2 733.3 1088.4 730.6 1089.7C727.8 1090.9 725.1 1092.1 722.3 1093.2C719.5 1094.3 716.7 1095.3 713.9 1096.4C711.1 1097.4 708.2 1098.3 705.4 1099.2C702.5 1100.1 699.6 1101.0 696.7 1101.8C693.9 1102.6 691.0 1103.3 688.0 1104.0C685.1 1104.7 682.2 1105.3 679.3 1105.9C676.3 1106.5 673.4 1107.0 670.4 1107.5C667.5 1108.0 664.5 1108.4 661.5 1108.8C658.5 1109.2 655.7 1109.5 652.6 1109.8C649.5 1110.1 646.1 1110.4 643.0 1110.5Z" fill="#00FF00"/>
<path d="M1594.0 1118.5C1590.9 1118.8 1588.0 1119.0 1585.0 1119.1C1582.0 1119.3 1579.0 1119.4 1576.0 1119.4C1573.0 1119.5 1570.0 1119.4 1567.0 1119.4C1564.0 1119.3 1561.0 1119.2 1558.0 1119.0C1555.0 1118.9 1552.0 1118.6 1549.0 1118.4C1546.1 1118.1 1543.1 1117.8 1540.1 1117.4C1537.1 1117.0 1534.1 1116.6 1531.2 1116.1C1528.2 1115.6 1525.3 1115.0 1522.3 1114.4C1519.4 1113.8 1516.5 1113.2 1513.6 1112.4C1510.6 1111.7 1507.7 1110.9 1504.9 1110.1C1502.0 1109.3 1499.1 1108.4 1496.3 1107.4C1493.4 1106.5 1490.6 1105.5 1487.8 1104.4C1485.0 1103.3 1482.2 1102.2 1479.5 1101.0C1476.7 1099.8 1474.0 1098.6 1471.3 1097.3C1468.6 1096.0 1465.9 1094.6 1463.2 1093.2C1460.6 1091.8 1458.0 1090.3 1455.4 1088.8C1452.8 1087.3 1450.2 1085.7 1447.7 1084.1C1445.2 1082.5 1442.7 1080.8 1440.2 1079.1C1437.7 1077.4 1435.3 1075.6 1432.9 1073.8C1430.5 1072.0 1428.2 1070.2 1425.8 1068.3C1423.5 1066.4 1421.2 1064.5 1418.9 1062.5C1416.7 1060.5 1414.5 1058.5 1412.3 1056.5C1410.1 1054.4 1407.9 1052.3 1405.8 1050.2C1403.7 1048.1 1401.6 1045.9 1399.5 1043.8C1397.5 1041.6 1395.4 1039.3 1393.4 1037.1C1391.5 1034.8 1389.5 1032.6 1387.6 1030.3C1385.7 1027.9 1383.8 1025.6 1382.0 1023.2C1380.1 1020.9 1378.3 1018.5 1376.6 1016.0C1374.8 1013.6 1373.1 1011.1 1371.4 1008.7C1369.7 1006.2 1368.1 1003.7 1366.4 1001.1C1364.8 998.6 1363.3 996.1 1361.7 993.5C1360.2 990.9 1358.7 988.3 1357.2 985.7C1355.8 983.1 1354.3 980.4 1353.0 977.7C1351.6 975.1 1350.2 972.4 1348.9 969.7C1347.6 967.0 1346.3 964.3 1345.0 961.6C1343.8 958.9 1342.6 956.1 1341.4 953.4C1340.2 950.6 1339.0 947.8 1337.9 945.1C1336.8 942.3 1335.7 939.5 1334.6 936.7C1333.5 933.9 1332.5 931.1 1331.4 928.2C1330.4 925.4 1329.4 922.6 1328.4 919.8C1327.5 916.9 1326.5 914.1 1325.6 911.2C1324.6 908.4 1323.7 905.5 1322.8 902.7C1321.9 899.8 1321.1 896.9 1320.2 894.0C1319.3 891.2 1318.5 888.3 1317.7 885.4C1316.9 882.5 1316.1 879.6 1315.3 876.7C1314.5 873.8 1313.7 870.9 1313.0 868.0C1312.2 865.1 1311.5 862.2 1310.8 859.3C1310.1 856.4 1309.3 853.5 1308.7 850.5C1308.0 847.6 1307.3 844.7 1306.7 841.8C1306.0 838.8 1305.4 835.9 1304.7 833.0C1304.1 830.0 1303.5 827.1 1302.9 824.1C1302.3 821.2 1301.8 818.3 1301.2 815.3C1300.7 812.4 1300.1 809.4 1299.6 806.5C1299.1 803.5 1298.6 800.5 1298.1 797.6C1297.6 794.6 1297.1 791.7 1296.6 788.7C1296.2 785.7 1295.7 782.8 1295.3 779.8C1294.8 776.8 1294.4 773.9 1294.0 770.9C1293.6 767.9 1293.2 764.9 1292.9 762.0C1292.5 759.0 1292.1 756.0 1291.8 753.0C1291.4 750.0 1291.1 747.1 1290.7 744.1C1290.4 741.1 1290.1 738.1 1289.8 735.1C1289.5 732.1 1289.2 729.1 1288.9 726.2C1288.6 723.2 1288.4 720.2 1288.1 717.2C1287.9 714.2 1287.6 711.2 1287.4 708.2C1287.1 705.2 1286.9 702.2 1286.7 699.2C1286.5 696.2 1286.3 693.3 1286.1 690.3C1285.9 687.3 1285.7 684.3 1285.5 681.3C1285.3 678.3 1285.2 675.3 1285.0 672.3C1284.9 669.3 1284.7 666.3 1284.6 663.3C1284.5 660.3 1284.3 657.3 1284.2 654.3C1284.1 651.3 1284.0 648.3 1284.0 645.3C1283.9 642.3 1283.8 639.3 1283.8 636.3C1283.7 633.3 1283.7 630.3 1283.7 627.3C1283.7 624.3 1283.7 621.3 1283.7 618.3C1283.7 615.3 1283.8 612.3 1283.9 609.3C1283.9 606.3 1284.0 603.3 1284.1 600.3C1284.2 597.3 1284.3 594.3 1284.5 591.3C1284.6 588.3 1284.8 585.3 1285.0 582.3C1285.2 579.3 1285.4 576.3 1285.7 573.3C1285.9 570.3 1286.2 567.4 1286.5 564.4C1286.8 561.4 1287.1 558.4 1287.4 555.4C1287.8 552.4 1288.2 549.5 1288.6 546.5C1289.0 543.5 1289.4 540.5 1289.9 537.6C1290.3 534.6 1290.8 531.7 1291.4 528.7C1291.9 525.7 1292.4 522.8 1293.0 519.9C1293.6 516.9 1294.3 514.0 1294.9 511.1C1295.6 508.1 1296.3 505.2 1297.0 502.3C1297.8 499.4 1298.6 496.5 1299.4 493.6C1300.2 490.7 1301.1 487.9 1302.0 485.0C1302.9 482.1 1303.9 479.3 1304.9 476.5C1305.9 473.7 1307.0 470.8 1308.1 468.1C1309.2 465.3 1310.4 462.5 1311.7 459.8C1312.9 457.0 1314.2 454.3 1315.5 451.7C1316.9 449.0 1318.3 446.3 1319.8 443.7C1321.3 441.1 1322.8 438.5 1324.4 436.0C1326.1 433.5 1327.7 431.0 1329.5 428.6C1331.2 426.1 1333.1 423.7 1334.9 421.4C1336.8 419.1 1338.8 416.8 1340.8 414.6C1342.8 412.4 1344.9 410.2 1347.1 408.1C1349.2 406.0 1351.4 404.0 1353.7 402.0C1356.0 400.1 1358.3 398.2 1360.7 396.4C1363.1 394.6 1365.6 392.8 1368.0 391.2C1370.5 389.5 1373.1 387.9 1375.7 386.4C1378.2 384.8 1380.9 383.4 1383.5 382.0C1386.2 380.6 1388.9 379.3 1391.6 378.1C1394.4 376.8 1397.1 375.7 1399.9 374.6C1402.7 373.5 1405.6 372.5 1408.4 371.5C1411.2 370.5 1414.1 369.7 1417.0 368.8C1419.9 368.0 1422.8 367.2 1425.7 366.5C1428.6 365.8 1431.5 365.2 1434.5 364.6C1437.4 364.0 1440.4 363.5 1443.4 363.1C1446.3 362.6 1449.3 362.2 1452.3 361.9C1455.3 361.5 1458.3 361.3 1461.2 361.0C1464.2 360.8 1467.2 360.6 1470.2 360.5C1473.2 360.4 1476.2 360.3 1479.2 360.3C1482.2 360.3 1485.2 360.4 1488.2 360.5C1491.2 360.6 1494.2 360.7 1497.2 360.9C1500.2 361.1 1503.2 361.4 1506.2 361.7C1509.2 362.0 1512.2 362.3 1515.1 362.7C1518.1 363.1 1521.1 363.6 1524.0 364.1C1527.0 364.6 1529.9 365.1 1532.9 365.7C1535.8 366.4 1538.8 367.0 1541.7 367.7C1544.6 368.4 1547.5 369.2 1550.4 370.0C1553.3 370.8 1556.2 371.6 1559.0 372.5C1561.9 373.4 1564.7 374.4 1567.5 375.4C1570.4 376.4 1573.2 377.4 1576.0 378.5C1578.8 379.6 1581.5 380.8 1584.3 382.0C1587.0 383.2 1589.8 384.5 1592.5 385.8C1595.2 387.1 1597.9 388.4 1600.5 389.8C1603.2 391.2 1605.8 392.7 1608.4 394.2C1611.0 395.7 1613.5 397.2 1616.1 398.9C1618.6 400.5 1621.1 402.1 1623.6 403.8C1626.0 405.5 1628.5 407.3 1630.9 409.1C1633.3 410.9 1635.6 412.8 1638.0 414.7C1640.3 416.6 1642.5 418.5 1644.8 420.5C1647.0 422.5 1649.2 424.6 1651.4 426.7C1653.5 428.7 1655.6 430.9 1657.7 433.1C1659.8 435.2 1661.8 437.5 1663.8 439.7C1665.8 442.0 1667.7 444.3 1669.6 446.6C1671.5 448.9 1673.3 451.3 1675.1 453.7C1676.9 456.1 1678.7 458.5 1680.4 461.0C1682.1 463.4 1683.8 465.9 1685.4 468.4C1687.1 471.0 1688.6 473.5 1690.2 476.1C1691.7 478.7 1693.2 481.2 1694.7 483.9C1696.2 486.5 1697.6 489.1 1699.0 491.8C1700.4 494.4 1701.7 497.1 1703.0 499.8C1704.4 502.5 1705.6 505.2 1706.9 508.0C1708.1 510.7 1709.3 513.5 1710.5 516.2C1711.6 519.0 1712.7 521.8 1713.8 524.6C1714.9 527.4 1716.0 530.2 1717.0 533.0C1718.0 535.8 1719.0 538.7 1720.0 541.5C1721.0 544.3 1721.9 547.2 1722.8 550.1C1723.7 552.9 1724.6 555.8 1725.4 558.7C1726.3 561.5 1727.1 564.4 1727.9 567.3C1728.7 570.2 1729.5 573.1 1730.3 576.0C1731.1 578.9 1731.8 581.8 1732.6 584.7C1733.3 587.6 1734.0 590.5 1734.8 593.4C1735.5 596.3 1736.2 599.3 1736.9 602.2C1737.6 605.1 1738.3 608.0 1739.0 610.9C1739.7 613.8 1740.4 616.8 1741.1 619.7C1741.8 622.6 1742.5 625.5 1743.2 628.4C1743.9 631.4 1744.6 634.3 1745.2 637.2C1745.9 640.1 1746.6 643.1 1747.3 646.0C1748.0 648.9 1748.7 651.8 1749.4 654.7C1750.0 657.7 1750.7 660.6 1751.4 663.5C1752.0 666.4 1752.7 669.4 1753.4 672.3C1754.0 675.2 1754.7 678.2 1755.3 681.1C1755.9 684.0 1756.5 687.0 1757.1 689.9C1757.8 692.8 1758.3 695.8 1758.9 698.7C1759.5 701.7 1760.0 704.6 1760.6 707.6C1761.1 710.5 1761.6 713.5 1762.1 716.4C1762.6 719.4 1763.1 722.4 1763.6 725.3C1764.0 728.3 1764.5 731.3 1764.9 734.2C1765.3 737.2 1765.7 740.2 1766.1 743.2C1766.4 746.1 1766.8 749.1 1767.1 752.1C1767.5 755.1 1767.8 758.1 1768.1 761.1C1768.4 764.0 1768.7 767.0 1768.9 770.0C1769.2 773.0 1769.4 776.0 1769.7 779.0C1769.9 782.0 1770.1 785.0 1770.3 788.0C1770.5 791.0 1770.7 794.0 1770.9 796.9C1771.1 799.9 1771.3 802.9 1771.4 805.9C1771.6 808.9 1771.8 811.9 1771.9 814.9C1772.0 817.9 1772.2 820.9 1772.3 823.9C1772.5 826.9 1772.6 829.9 1772.7 832.9C1772.8 835.9 1772.9 838.9 1773.1 841.9C1773.2 844.9 1773.3 847.9 1773.4 850.9C1773.5 853.9 1773.6 856.9 1773.6 859.9C1773.7 862.9 1773.8 865.9 1773.9 868.9C1774.0 871.9 1774.0 874.9 1774.1 877.9C1774.1 880.9 1774.2 883.9 1774.2 886.9C1774.2 889.9 1774.2 892.9 1774.2 895.9C1774.3 898.9 1774.2 901.9 1774.2 904.9C1774.2 907.9 1774.1 910.9 1774.1 913.9C1774.0 916.9 1773.9 919.9 1773.8 922.9C1773.7 925.9 1773.6 928.9 1773.4 931.9C1773.3 934.9 1773.1 937.9 1772.9 940.9C1772.7 943.9 1772.4 946.9 1772.1 949.9C1771.8 952.8 1771.5 955.8 1771.2 958.8C1770.8 961.8 1770.4 964.8 1770.0 967.7C1769.5 970.7 1769.0 973.7 1768.5 976.6C1767.9 979.6 1767.3 982.5 1766.6 985.4C1766.0 988.4 1765.2 991.3 1764.4 994.2C1763.7 997.1 1762.8 999.9 1761.9 1002.8C1760.9 1005.6 1759.9 1008.5 1758.9 1011.3C1757.8 1014.1 1756.6 1016.8 1755.4 1019.6C1754.1 1022.3 1752.8 1025.0 1751.4 1027.7C1750.0 1030.3 1748.5 1032.9 1747.0 1035.5C1745.4 1038.0 1743.8 1040.5 1742.0 1043.0C1740.3 1045.5 1738.5 1047.9 1736.6 1050.2C1734.8 1052.5 1732.8 1054.8 1730.8 1057.0C1728.8 1059.3 1726.7 1061.4 1724.5 1063.5C1722.4 1065.6 1720.2 1067.7 1717.9 1069.6C1715.7 1071.6 1713.3 1073.5 1711.0 1075.4C1708.6 1077.2 1706.2 1079.0 1703.7 1080.7C1701.3 1082.4 1698.8 1084.1 1696.3 1085.7C1693.7 1087.3 1691.1 1088.9 1688.5 1090.3C1685.9 1091.8 1683.3 1093.2 1680.6 1094.6C1677.9 1096.0 1675.2 1097.3 1672.5 1098.5C1669.8 1099.8 1667.0 1100.9 1664.2 1102.1C1661.5 1103.2 1658.6 1104.3 1655.8 1105.3C1653.0 1106.3 1650.2 1107.3 1647.3 1108.2C1644.4 1109.1 1641.5 1109.9 1638.7 1110.7C1635.8 1111.5 1632.8 1112.2 1629.9 1112.9C1627.0 1113.6 1624.1 1114.2 1621.1 1114.8C1618.2 1115.4 1615.2 1115.9 1612.3 1116.3C1609.3 1116.8 1606.4 1117.2 1603.3 1117.6C1600.3 1117.9 1597.1 1118.3 1594.0 1118.5Z" fill="#00FF00"/>
<path d="M648.0 1036.5C644.9 1036.7 642.0 1036.7 639.0 1036.7C636.0 1036.6 633.0 1036.5 630.0 1036.4C627.0 1036.2 624.0 1035.9 621.0 1035.6C618.1 1035.2 615.1 1034.8 612.1 1034.3C609.2 1033.8 606.2 1033.2 603.3 1032.5C600.4 1031.9 597.5 1031.1 594.6 1030.3C591.7 1029.4 588.9 1028.5 586.0 1027.5C583.2 1026.5 580.4 1025.4 577.7 1024.2C574.9 1023.0 572.2 1021.8 569.5 1020.4C566.8 1019.1 564.2 1017.6 561.6 1016.1C559.0 1014.6 556.4 1013.0 553.9 1011.4C551.4 1009.7 549.0 1008.0 546.6 1006.1C544.2 1004.3 541.9 1002.4 539.6 1000.5C537.3 998.5 535.1 996.5 533.0 994.4C530.8 992.3 528.7 990.2 526.7 988.0C524.7 985.8 522.7 983.5 520.8 981.1C518.9 978.8 517.1 976.4 515.3 974.0C513.6 971.6 511.9 969.1 510.3 966.6C508.6 964.0 507.1 961.5 505.6 958.9C504.1 956.3 502.7 953.6 501.4 950.9C500.0 948.2 498.7 945.5 497.5 942.8C496.3 940.0 495.1 937.3 494.0 934.5C493.0 931.7 491.9 928.9 490.9 926.0C490.0 923.2 489.0 920.3 488.1 917.5C487.3 914.6 486.4 911.7 485.7 908.8C484.9 905.9 484.1 903.0 483.4 900.1C482.7 897.2 482.1 894.2 481.5 891.3C480.8 888.4 480.3 885.4 479.7 882.5C479.1 879.5 478.6 876.6 478.1 873.6C477.6 870.7 477.2 867.7 476.7 864.7C476.3 861.8 475.9 858.8 475.5 855.8C475.1 852.8 474.7 849.9 474.4 846.9C474.0 843.9 473.7 840.9 473.4 837.9C473.1 835.0 472.8 832.0 472.5 829.0C472.2 826.0 472.0 823.0 471.8 820.0C471.6 817.0 471.4 814.0 471.2 811.0C471.0 808.0 470.8 805.0 470.7 802.0C470.6 799.0 470.4 796.0 470.3 793.0C470.2 790.0 470.2 787.0 470.1 784.0C470.1 781.0 470.0 778.0 470.0 775.0C470.0 772.0 470.0 769.0 470.1 766.0C470.1 763.0 470.2 760.0 470.2 757.0C470.3 754.0 470.4 751.0 470.6 748.0C470.7 745.0 470.8 742.0 471.0 739.0C471.2 736.1 471.4 733.1 471.6 730.1C471.8 727.1 472.0 724.1 472.3 721.1C472.5 718.1 472.8 715.1 473.1 712.1C473.4 709.1 473.7 706.2 474.0 703.2C474.4 700.2 474.7 697.2 475.1 694.2C475.4 691.3 475.8 688.3 476.2 685.3C476.6 682.3 477.1 679.4 477.5 676.4C478.0 673.4 478.4 670.5 478.9 667.5C479.4 664.5 479.9 661.6 480.4 658.6C480.9 655.7 481.4 652.7 482.0 649.8C482.5 646.8 483.1 643.9 483.7 640.9C484.3 638.0 484.9 635.0 485.5 632.1C486.1 629.2 486.8 626.2 487.5 623.3C488.1 620.4 488.8 617.5 489.5 614.6C490.2 611.6 491.0 608.7 491.7 605.8C492.5 602.9 493.2 600.0 494.1 597.1C494.9 594.2 495.7 591.4 496.5 588.5C497.4 585.6 498.3 582.7 499.2 579.9C500.1 577.0 501.0 574.2 502.0 571.3C502.9 568.5 503.9 565.6 505.0 562.8C506.0 560.0 507.0 557.2 508.1 554.4C509.2 551.6 510.3 548.8 511.5 546.0C512.6 543.3 513.8 540.5 515.0 537.8C516.3 535.0 517.5 532.3 518.8 529.6C520.1 526.9 521.4 524.2 522.8 521.5C524.2 518.9 525.6 516.2 527.0 513.6C528.4 510.9 529.9 508.3 531.4 505.7C532.9 503.1 534.5 500.6 536.1 498.0C537.7 495.5 539.3 493.0 541.0 490.5C542.6 488.0 544.4 485.5 546.1 483.1C547.9 480.6 549.6 478.2 551.5 475.8C553.3 473.5 555.2 471.1 557.1 468.8C559.0 466.5 561.0 464.2 563.0 462.0C565.0 459.7 567.0 457.5 569.1 455.4C571.2 453.2 573.3 451.1 575.5 449.0C577.6 447.0 579.8 444.9 582.1 442.9C584.3 441.0 586.6 439.0 589.0 437.1C591.3 435.3 593.7 433.4 596.1 431.6C598.5 429.9 601.0 428.1 603.5 426.5C606.0 424.8 608.5 423.2 611.1 421.6C613.6 420.1 616.2 418.6 618.9 417.2C621.5 415.7 624.2 414.4 626.9 413.0C629.6 411.7 632.3 410.5 635.1 409.3C637.8 408.1 640.6 407.0 643.4 406.0C646.2 404.9 649.1 403.9 651.9 403.0C654.8 402.1 657.7 401.2 660.6 400.5C663.4 399.7 666.4 399.0 669.3 398.3C672.2 397.7 675.2 397.1 678.1 396.6C681.1 396.1 684.1 395.7 687.0 395.3C690.0 394.9 693.0 394.6 696.0 394.4C699.0 394.2 702.0 394.0 705.0 394.0C708.0 393.9 711.0 393.9 714.0 394.0C717.0 394.0 720.0 394.2 723.0 394.4C726.0 394.6 729.0 394.9 731.9 395.2C734.9 395.6 737.9 396.0 740.8 396.5C743.8 397.0 746.8 397.6 749.7 398.2C752.6 398.9 755.5 399.6 758.4 400.4C761.3 401.2 764.2 402.0 767.0 402.9C769.9 403.9 772.7 404.9 775.5 406.0C778.3 407.0 781.1 408.2 783.8 409.4C786.6 410.6 789.3 411.9 792.0 413.3C794.6 414.7 797.3 416.1 799.9 417.6C802.5 419.1 805.0 420.7 807.5 422.4C810.0 424.0 812.5 425.7 814.9 427.5C817.3 429.3 819.7 431.2 822.0 433.1C824.2 435.0 826.5 437.0 828.7 439.1C830.9 441.1 833.0 443.3 835.0 445.5C837.1 447.6 839.1 449.9 841.0 452.2C842.9 454.5 844.7 456.9 846.5 459.3C848.3 461.7 850.0 464.2 851.6 466.7C853.2 469.2 854.8 471.8 856.3 474.4C857.7 477.0 859.1 479.7 860.5 482.4C861.8 485.1 863.0 487.8 864.2 490.6C865.4 493.3 866.5 496.1 867.6 498.9C868.6 501.7 869.6 504.6 870.5 507.4C871.4 510.3 872.3 513.2 873.1 516.1C873.9 519.0 874.6 521.9 875.3 524.8C876.0 527.7 876.6 530.6 877.2 533.6C877.8 536.5 878.3 539.5 878.8 542.4C879.3 545.4 879.7 548.4 880.1 551.3C880.6 554.3 880.9 557.3 881.3 560.3C881.6 563.3 881.9 566.2 882.2 569.2C882.5 572.2 882.7 575.2 882.9 578.2C883.2 581.2 883.3 584.2 883.5 587.2C883.7 590.2 883.8 593.2 883.9 596.2C884.0 599.2 884.1 602.2 884.2 605.2C884.3 608.2 884.3 611.2 884.4 614.2C884.4 617.2 884.4 620.2 884.4 623.2C884.4 626.2 884.3 629.2 884.3 632.2C884.2 635.2 884.1 638.2 884.0 641.2C883.9 644.2 883.8 647.2 883.6 650.2C883.5 653.2 883.3 656.2 883.1 659.2C882.9 662.2 882.7 665.1 882.5 668.1C882.2 671.1 882.0 674.1 881.7 677.1C881.4 680.1 881.1 683.1 880.8 686.1C880.4 689.0 880.1 692.0 879.7 695.0C879.3 698.0 878.9 700.9 878.5 703.9C878.1 706.9 877.6 709.9 877.2 712.8C876.7 715.8 876.3 718.8 875.8 721.7C875.3 724.7 874.8 727.6 874.2 730.6C873.7 733.5 873.2 736.5 872.6 739.4C872.1 742.4 871.5 745.3 870.9 748.3C870.4 751.2 869.8 754.2 869.2 757.1C868.6 760.1 868.0 763.0 867.4 765.9C866.8 768.9 866.2 771.8 865.6 774.7C864.9 777.7 864.3 780.6 863.7 783.5C863.0 786.5 862.4 789.4 861.7 792.3C861.1 795.3 860.4 798.2 859.7 801.1C859.0 804.0 858.3 807.0 857.6 809.9C856.9 812.8 856.2 815.7 855.5 818.6C854.7 821.5 854.0 824.4 853.2 827.3C852.4 830.2 851.6 833.1 850.8 836.0C850.0 838.9 849.1 841.8 848.3 844.6C847.4 847.5 846.5 850.4 845.6 853.2C844.7 856.1 843.7 858.9 842.7 861.8C841.7 864.6 840.7 867.4 839.7 870.2C838.6 873.0 837.5 875.8 836.4 878.6C835.3 881.4 834.2 884.2 833.0 887.0C831.8 889.7 830.6 892.5 829.4 895.2C828.1 897.9 826.9 900.7 825.6 903.4C824.3 906.1 822.9 908.7 821.6 911.4C820.2 914.1 818.8 916.8 817.4 919.4C816.0 922.0 814.5 924.7 813.0 927.3C811.5 929.9 810.0 932.5 808.5 935.0C806.9 937.6 805.3 940.1 803.7 942.6C802.0 945.2 800.4 947.7 798.7 950.1C797.0 952.6 795.2 955.1 793.5 957.5C791.7 959.9 789.8 962.3 788.0 964.6C786.1 967.0 784.2 969.3 782.2 971.5C780.3 973.8 778.3 976.0 776.2 978.2C774.1 980.4 772.0 982.5 769.9 984.6C767.7 986.7 765.5 988.8 763.3 990.7C761.0 992.7 758.7 994.6 756.4 996.5C754.0 998.4 751.6 1000.2 749.2 1001.9C746.7 1003.7 744.3 1005.4 741.7 1007.0C739.2 1008.6 736.6 1010.2 734.0 1011.7C731.4 1013.1 728.8 1014.6 726.1 1015.9C723.4 1017.3 720.7 1018.6 718.0 1019.8C715.3 1021.1 712.5 1022.2 709.7 1023.3C706.9 1024.4 704.1 1025.5 701.3 1026.4C698.4 1027.4 695.5 1028.3 692.7 1029.1C689.8 1030.0 686.9 1030.7 684.0 1031.4C681.1 1032.1 678.1 1032.8 675.2 1033.3C672.2 1033.9 669.3 1034.4 666.3 1034.8C663.3 1035.2 660.4 1035.6 657.4 1035.9C654.3 1036.2 651.1 1036.4 648.0 1036.5Z" fill="#FFFF00"/>
<path d="M1569.0 1047.5C1566.0 1047.7 1563.0 1047.8 1560.0 1047.8C1557.0 1047.8 1554.0 1047.7 1551.0 1047.5C1548.0 1047.3 1545.0 1047.1 1542.0 1046.7C1539.0 1046.4 1536.1 1045.9 1533.1 1045.4C1530.1 1044.9 1527.2 1044.3 1524.3 1043.6C1521.3 1043.0 1518.4 1042.2 1515.5 1041.4C1512.7 1040.6 1509.8 1039.6 1506.9 1038.7C1504.1 1037.7 1501.3 1036.7 1498.5 1035.6C1495.7 1034.5 1492.9 1033.3 1490.2 1032.1C1487.4 1030.9 1484.7 1029.6 1482.0 1028.2C1479.3 1026.9 1476.7 1025.5 1474.0 1024.1C1471.4 1022.6 1468.8 1021.1 1466.2 1019.6C1463.6 1018.0 1461.1 1016.4 1458.6 1014.8C1456.1 1013.2 1453.6 1011.5 1451.1 1009.7C1448.7 1008.0 1446.3 1006.2 1443.9 1004.4C1441.5 1002.5 1439.2 1000.7 1436.8 998.7C1434.5 996.8 1432.3 994.8 1430.0 992.8C1427.8 990.8 1425.6 988.8 1423.5 986.7C1421.3 984.6 1419.2 982.4 1417.2 980.2C1415.1 978.0 1413.1 975.8 1411.1 973.5C1409.2 971.3 1407.2 968.9 1405.4 966.6C1403.5 964.3 1401.7 961.9 1399.9 959.4C1398.1 957.0 1396.4 954.6 1394.7 952.1C1393.0 949.6 1391.4 947.1 1389.8 944.5C1388.2 942.0 1386.7 939.4 1385.2 936.8C1383.7 934.2 1382.2 931.6 1380.8 928.9C1379.3 926.3 1378.0 923.6 1376.6 920.9C1375.3 918.2 1373.9 915.5 1372.7 912.8C1371.4 910.1 1370.1 907.4 1368.9 904.6C1367.7 901.9 1366.5 899.1 1365.3 896.4C1364.2 893.6 1363.0 890.8 1361.9 888.0C1360.8 885.2 1359.7 882.4 1358.7 879.6C1357.6 876.8 1356.6 874.0 1355.6 871.1C1354.6 868.3 1353.6 865.5 1352.6 862.6C1351.7 859.8 1350.7 856.9 1349.8 854.1C1348.9 851.2 1348.0 848.3 1347.2 845.4C1346.3 842.6 1345.5 839.7 1344.7 836.8C1343.8 833.9 1343.1 831.0 1342.3 828.1C1341.5 825.2 1340.8 822.3 1340.1 819.4C1339.4 816.4 1338.7 813.5 1338.0 810.6C1337.3 807.7 1336.7 804.7 1336.1 801.8C1335.5 798.8 1334.9 795.9 1334.3 792.9C1333.8 790.0 1333.2 787.0 1332.7 784.1C1332.2 781.1 1331.7 778.2 1331.2 775.2C1330.8 772.2 1330.3 769.3 1329.9 766.3C1329.5 763.3 1329.1 760.3 1328.7 757.3C1328.3 754.4 1327.9 751.4 1327.6 748.4C1327.2 745.4 1326.9 742.4 1326.6 739.4C1326.3 736.5 1326.0 733.5 1325.7 730.5C1325.4 727.5 1325.1 724.5 1324.9 721.5C1324.7 718.5 1324.4 715.5 1324.2 712.5C1324.0 709.5 1323.8 706.5 1323.6 703.5C1323.4 700.5 1323.2 697.5 1323.1 694.5C1322.9 691.5 1322.8 688.5 1322.7 685.5C1322.6 682.5 1322.5 679.5 1322.4 676.5C1322.3 673.5 1322.3 670.5 1322.2 667.5C1322.2 664.5 1322.2 661.5 1322.2 658.5C1322.2 655.5 1322.2 652.5 1322.3 649.5C1322.3 646.5 1322.4 643.5 1322.5 640.5C1322.6 637.5 1322.8 634.5 1322.9 631.5C1323.1 628.5 1323.3 625.5 1323.6 622.5C1323.8 619.5 1324.1 616.5 1324.4 613.5C1324.7 610.5 1325.0 607.5 1325.4 604.5C1325.8 601.6 1326.2 598.6 1326.7 595.6C1327.1 592.7 1327.6 589.7 1328.2 586.7C1328.7 583.8 1329.3 580.8 1329.9 577.9C1330.6 575.0 1331.3 572.0 1332.0 569.1C1332.7 566.2 1333.4 563.3 1334.2 560.4C1335.1 557.5 1335.9 554.6 1336.8 551.8C1337.7 548.9 1338.6 546.0 1339.6 543.2C1340.6 540.4 1341.6 537.5 1342.7 534.7C1343.8 531.9 1344.9 529.1 1346.1 526.4C1347.3 523.6 1348.5 520.9 1349.8 518.2C1351.1 515.4 1352.4 512.7 1353.8 510.1C1355.2 507.4 1356.6 504.8 1358.1 502.2C1359.6 499.6 1361.1 497.0 1362.7 494.4C1364.3 491.9 1366.0 489.4 1367.7 486.9C1369.4 484.5 1371.2 482.0 1373.0 479.7C1374.9 477.3 1376.8 475.0 1378.7 472.7C1380.7 470.4 1382.7 468.2 1384.8 466.0C1386.9 463.9 1389.1 461.8 1391.3 459.8C1393.5 457.7 1395.8 455.8 1398.1 453.9C1400.4 452.0 1402.8 450.2 1405.3 448.4C1407.8 446.7 1410.3 445.1 1412.8 443.5C1415.4 441.9 1418.0 440.4 1420.6 439.0C1423.3 437.6 1426.0 436.3 1428.7 435.1C1431.5 433.8 1434.3 432.7 1437.1 431.6C1439.9 430.6 1442.7 429.6 1445.6 428.7C1448.5 427.8 1451.4 427.0 1454.3 426.3C1457.2 425.6 1460.2 425.0 1463.1 424.4C1466.1 423.9 1469.0 423.4 1472.0 423.1C1475.0 422.7 1478.0 422.4 1481.0 422.2C1484.0 422.0 1487.0 421.8 1490.0 421.8C1493.0 421.7 1496.0 421.7 1499.0 421.8C1502.0 421.9 1505.0 422.1 1508.0 422.3C1511.0 422.6 1514.0 422.9 1516.9 423.3C1519.9 423.7 1522.9 424.1 1525.9 424.7C1528.8 425.2 1531.8 425.8 1534.7 426.5C1537.6 427.1 1540.5 427.9 1543.4 428.7C1546.3 429.5 1549.2 430.4 1552.0 431.3C1554.9 432.2 1557.7 433.2 1560.5 434.3C1563.3 435.4 1566.1 436.5 1568.9 437.7C1571.6 438.9 1574.4 440.2 1577.1 441.5C1579.7 442.8 1582.4 444.2 1585.0 445.7C1587.7 447.1 1590.3 448.6 1592.8 450.2C1595.4 451.8 1597.9 453.4 1600.4 455.1C1602.9 456.8 1605.3 458.5 1607.7 460.3C1610.2 462.1 1612.5 464.0 1614.8 465.9C1617.2 467.8 1619.4 469.7 1621.7 471.7C1623.9 473.8 1626.1 475.8 1628.2 477.9C1630.4 480.0 1632.5 482.2 1634.5 484.4C1636.6 486.6 1638.6 488.8 1640.6 491.1C1642.5 493.3 1644.4 495.7 1646.3 498.0C1648.2 500.4 1650.0 502.8 1651.8 505.2C1653.5 507.6 1655.3 510.1 1656.9 512.6C1658.6 515.0 1660.3 517.6 1661.8 520.1C1663.4 522.7 1665.0 525.3 1666.5 527.9C1667.9 530.5 1669.4 533.1 1670.8 535.8C1672.2 538.4 1673.6 541.1 1674.9 543.8C1676.2 546.5 1677.5 549.2 1678.7 552.0C1679.9 554.7 1681.1 557.5 1682.3 560.2C1683.4 563.0 1684.5 565.8 1685.6 568.6C1686.7 571.4 1687.7 574.2 1688.7 577.1C1689.7 579.9 1690.7 582.7 1691.7 585.6C1692.6 588.4 1693.5 591.3 1694.4 594.2C1695.3 597.0 1696.2 599.9 1697.1 602.8C1697.9 605.7 1698.7 608.5 1699.6 611.4C1700.4 614.3 1701.2 617.2 1702.0 620.1C1702.8 623.0 1703.5 625.9 1704.3 628.8C1705.1 631.7 1705.8 634.6 1706.6 637.6C1707.3 640.5 1708.0 643.4 1708.8 646.3C1709.5 649.2 1710.2 652.1 1710.9 655.0C1711.6 658.0 1712.4 660.9 1713.0 663.8C1713.7 666.7 1714.4 669.6 1715.1 672.6C1715.8 675.5 1716.5 678.4 1717.1 681.4C1717.8 684.3 1718.4 687.2 1719.0 690.2C1719.6 693.1 1720.3 696.0 1720.9 699.0C1721.4 701.9 1722.0 704.9 1722.6 707.8C1723.1 710.8 1723.6 713.8 1724.2 716.7C1724.7 719.7 1725.1 722.6 1725.6 725.6C1726.0 728.6 1726.5 731.6 1726.9 734.5C1727.3 737.5 1727.6 740.5 1728.0 743.5C1728.3 746.5 1728.6 749.4 1728.9 752.4C1729.2 755.4 1729.4 758.4 1729.6 761.4C1729.9 764.4 1730.0 767.4 1730.2 770.4C1730.4 773.4 1730.5 776.4 1730.6 779.4C1730.7 782.4 1730.8 785.4 1730.9 788.4C1730.9 791.4 1730.9 794.4 1731.0 797.4C1731.0 800.4 1731.0 803.4 1730.9 806.5C1730.9 809.5 1730.9 812.5 1730.8 815.5C1730.7 818.5 1730.6 821.5 1730.5 824.5C1730.4 827.5 1730.3 830.5 1730.2 833.5C1730.1 836.5 1729.9 839.5 1729.8 842.5C1729.6 845.5 1729.4 848.5 1729.2 851.5C1729.0 854.5 1728.8 857.5 1728.5 860.5C1728.3 863.5 1728.0 866.5 1727.8 869.4C1727.5 872.4 1727.2 875.4 1726.8 878.4C1726.5 881.4 1726.1 884.4 1725.7 887.3C1725.3 890.3 1724.8 893.3 1724.3 896.3C1723.8 899.2 1723.3 902.2 1722.7 905.1C1722.1 908.1 1721.5 911.0 1720.8 913.9C1720.1 916.8 1719.3 919.8 1718.5 922.7C1717.7 925.5 1716.8 928.4 1715.9 931.3C1715.0 934.1 1713.9 937.0 1712.9 939.8C1711.8 942.6 1710.6 945.3 1709.4 948.1C1708.1 950.8 1706.8 953.5 1705.5 956.2C1704.1 958.8 1702.6 961.5 1701.1 964.1C1699.6 966.6 1697.9 969.2 1696.3 971.7C1694.6 974.2 1692.9 976.6 1691.1 979.0C1689.2 981.4 1687.4 983.8 1685.4 986.1C1683.5 988.4 1681.5 990.6 1679.5 992.8C1677.4 995.0 1675.3 997.2 1673.2 999.2C1671.0 1001.3 1668.8 1003.4 1666.5 1005.4C1664.3 1007.3 1662.0 1009.3 1659.6 1011.2C1657.3 1013.0 1654.9 1014.8 1652.4 1016.6C1650.0 1018.4 1647.5 1020.1 1645.0 1021.7C1642.5 1023.3 1639.9 1024.9 1637.3 1026.4C1634.7 1027.9 1632.1 1029.3 1629.4 1030.7C1626.7 1032.1 1624.0 1033.4 1621.3 1034.6C1618.5 1035.8 1615.8 1037.0 1612.9 1038.0C1610.1 1039.1 1607.3 1040.1 1604.4 1041.0C1601.6 1041.8 1598.7 1042.7 1595.7 1043.4C1592.8 1044.1 1589.9 1044.8 1586.9 1045.3C1584.0 1045.8 1581.0 1046.3 1578.0 1046.7C1575.0 1047.0 1572.0 1047.3 1569.0 1047.5Z" fill="#FFFF00"/>
<path d="M668.0 963.5C665.0 963.8 662.0 964.0 659.0 964.1C656.0 964.3 653.0 964.3 650.0 964.2C647.1 964.1 644.1 963.9 641.1 963.5C638.1 963.2 635.1 962.8 632.2 962.3C629.2 961.8 626.3 961.1 623.4 960.4C620.5 959.7 617.6 958.8 614.8 957.9C611.9 956.9 609.1 955.8 606.4 954.7C603.6 953.5 600.9 952.2 598.2 950.8C595.6 949.4 593.0 948.0 590.4 946.4C587.9 944.8 585.4 943.1 583.0 941.3C580.6 939.5 578.3 937.6 576.0 935.7C573.8 933.7 571.6 931.6 569.5 929.5C567.4 927.4 565.3 925.2 563.4 922.9C561.5 920.6 559.6 918.2 557.8 915.8C556.0 913.4 554.3 910.9 552.7 908.4C551.1 905.9 549.6 903.3 548.1 900.7C546.6 898.1 545.2 895.4 543.9 892.8C542.6 890.1 541.3 887.3 540.2 884.6C539.0 881.8 537.8 879.1 536.8 876.3C535.7 873.5 534.7 870.6 533.7 867.8C532.8 865.0 531.8 862.1 531.0 859.2C530.1 856.4 529.3 853.5 528.5 850.6C527.8 847.7 527.0 844.8 526.3 841.9C525.6 839.0 525.0 836.0 524.4 833.1C523.8 830.2 523.2 827.2 522.6 824.3C522.1 821.3 521.6 818.4 521.1 815.4C520.6 812.5 520.2 809.5 519.8 806.5C519.4 803.6 519.0 800.6 518.7 797.6C518.4 794.6 518.1 791.6 517.8 788.7C517.5 785.7 517.3 782.7 517.1 779.7C516.9 776.7 516.7 773.7 516.6 770.7C516.4 767.7 516.3 764.7 516.3 761.7C516.2 758.7 516.2 755.7 516.2 752.7C516.2 749.8 516.2 746.8 516.2 743.8C516.3 740.8 516.4 737.8 516.5 734.8C516.6 731.8 516.8 728.8 517.0 725.8C517.2 722.8 517.4 719.8 517.6 716.8C517.9 713.8 518.2 710.9 518.5 707.9C518.8 704.9 519.1 701.9 519.5 698.9C519.8 696.0 520.2 693.0 520.7 690.0C521.1 687.1 521.5 684.1 522.0 681.1C522.5 678.2 523.0 675.2 523.5 672.3C524.1 669.3 524.6 666.4 525.2 663.5C525.8 660.5 526.4 657.6 527.1 654.7C527.8 651.7 528.4 648.8 529.2 645.9C529.9 643.0 530.6 640.1 531.4 637.2C532.2 634.3 533.0 631.4 533.9 628.6C534.7 625.7 535.6 622.8 536.5 620.0C537.4 617.1 538.4 614.3 539.4 611.4C540.4 608.6 541.4 605.8 542.5 603.0C543.5 600.2 544.6 597.4 545.8 594.6C546.9 591.9 548.1 589.1 549.3 586.4C550.5 583.6 551.8 580.9 553.1 578.2C554.4 575.5 555.7 572.8 557.1 570.2C558.4 567.5 559.9 564.8 561.3 562.2C562.8 559.6 564.2 557.0 565.8 554.4C567.3 551.8 568.9 549.3 570.5 546.8C572.1 544.2 573.7 541.7 575.4 539.3C577.1 536.8 578.9 534.3 580.6 531.9C582.4 529.5 584.2 527.1 586.1 524.8C588.0 522.5 589.9 520.2 591.9 517.9C593.8 515.6 595.8 513.4 597.9 511.2C600.0 509.1 602.1 506.9 604.3 504.9C606.4 502.8 608.6 500.8 610.9 498.8C613.2 496.9 615.5 495.0 617.9 493.1C620.2 491.3 622.6 489.5 625.1 487.8C627.6 486.1 630.1 484.5 632.7 483.0C635.2 481.4 637.9 480.0 640.5 478.6C643.2 477.2 645.9 475.9 648.6 474.7C651.4 473.5 654.2 472.4 657.0 471.3C659.8 470.3 662.6 469.4 665.5 468.6C668.4 467.7 671.3 467.0 674.2 466.3C677.2 465.7 680.1 465.1 683.1 464.7C686.0 464.3 689.0 463.9 692.0 463.7C695.0 463.4 698.0 463.3 701.0 463.3C704.0 463.2 707.0 463.3 710.0 463.4C713.0 463.6 715.9 463.9 718.9 464.3C721.9 464.6 724.8 465.1 727.8 465.7C730.7 466.3 733.6 467.0 736.5 467.7C739.4 468.5 742.3 469.4 745.1 470.4C747.9 471.4 750.7 472.5 753.5 473.7C756.2 474.9 758.9 476.2 761.6 477.6C764.2 479.0 766.8 480.5 769.3 482.1C771.9 483.7 774.3 485.4 776.7 487.2C779.1 489.0 781.5 490.9 783.7 492.9C786.0 494.9 788.1 497.0 790.2 499.1C792.3 501.2 794.3 503.5 796.3 505.8C798.2 508.1 800.0 510.4 801.8 512.9C803.6 515.3 805.2 517.8 806.8 520.3C808.4 522.8 809.9 525.4 811.4 528.1C812.8 530.7 814.2 533.4 815.4 536.1C816.7 538.8 817.9 541.5 819.1 544.3C820.2 547.1 821.3 549.9 822.3 552.7C823.3 555.5 824.3 558.3 825.2 561.2C826.1 564.1 826.9 566.9 827.7 569.8C828.5 572.7 829.2 575.6 829.9 578.5C830.6 581.5 831.2 584.4 831.8 587.3C832.4 590.3 833.0 593.2 833.5 596.2C834.0 599.1 834.5 602.1 834.9 605.0C835.3 608.0 835.7 611.0 836.0 614.0C836.4 616.9 836.7 619.9 836.9 622.9C837.2 625.9 837.4 628.9 837.6 631.9C837.8 634.9 837.9 637.9 838.0 640.8C838.1 643.8 838.2 646.8 838.2 649.8C838.3 652.8 838.3 655.8 838.2 658.8C838.2 661.8 838.1 664.8 838.0 667.8C837.8 670.8 837.7 673.8 837.5 676.8C837.3 679.8 837.1 682.8 836.8 685.8C836.6 688.7 836.3 691.7 836.0 694.7C835.7 697.7 835.3 700.7 835.0 703.6C834.6 706.6 834.2 709.6 833.8 712.6C833.4 715.5 833.0 718.5 832.5 721.5C832.1 724.4 831.6 727.4 831.1 730.3C830.6 733.3 830.1 736.2 829.6 739.2C829.1 742.1 828.5 745.1 828.0 748.0C827.4 751.0 826.9 753.9 826.3 756.9C825.7 759.8 825.1 762.7 824.5 765.7C823.8 768.6 823.2 771.5 822.5 774.5C821.9 777.4 821.2 780.3 820.5 783.2C819.8 786.1 819.1 789.0 818.3 791.9C817.6 794.8 816.8 797.7 816.0 800.6C815.2 803.5 814.4 806.4 813.5 809.3C812.7 812.1 811.8 815.0 810.8 817.8C809.9 820.7 808.9 823.5 807.9 826.3C806.9 829.2 805.9 832.0 804.8 834.8C803.7 837.6 802.6 840.4 801.4 843.1C800.3 845.9 799.1 848.6 797.8 851.3C796.6 854.1 795.3 856.8 794.0 859.5C792.7 862.2 791.3 864.8 789.9 867.5C788.5 870.1 787.0 872.7 785.5 875.3C784.0 877.9 782.5 880.5 780.9 883.1C779.4 885.6 777.7 888.1 776.1 890.6C774.4 893.1 772.7 895.6 771.0 898.0C769.2 900.4 767.4 902.8 765.6 905.2C763.7 907.6 761.8 909.9 759.9 912.2C757.9 914.5 755.9 916.7 753.9 918.9C751.8 921.1 749.7 923.2 747.6 925.3C745.4 927.4 743.2 929.4 741.0 931.3C738.7 933.3 736.4 935.2 734.0 937.0C731.6 938.8 729.1 940.6 726.7 942.2C724.2 943.9 721.6 945.5 719.0 947.0C716.4 948.5 713.8 949.9 711.1 951.2C708.4 952.5 705.6 953.7 702.9 954.8C700.1 955.9 697.3 957.0 694.4 957.9C691.6 958.8 688.7 959.6 685.8 960.4C682.9 961.1 679.9 961.7 677.0 962.2C674.0 962.8 671.0 963.2 668.0 963.5Z" fill="#FF8000"/>
<path d="M1570.0 977.5C1567.0 977.9 1564.0 978.2 1561.0 978.3C1558.0 978.5 1555.0 978.5 1552.0 978.4C1549.0 978.4 1546.0 978.2 1543.0 977.9C1540.1 977.6 1537.1 977.2 1534.1 976.7C1531.2 976.2 1528.2 975.6 1525.3 975.0C1522.4 974.3 1519.5 973.5 1516.6 972.7C1513.7 971.8 1510.8 970.9 1508.0 969.9C1505.2 968.8 1502.4 967.7 1499.6 966.6C1496.9 965.4 1494.1 964.1 1491.4 962.8C1488.8 961.5 1486.1 960.1 1483.5 958.7C1480.8 957.2 1478.3 955.7 1475.7 954.1C1473.2 952.5 1470.7 950.8 1468.2 949.1C1465.7 947.4 1463.3 945.6 1461.0 943.8C1458.6 941.9 1456.3 940.0 1454.0 938.0C1451.8 936.0 1449.6 934.0 1447.4 931.9C1445.3 929.8 1443.2 927.7 1441.1 925.5C1439.1 923.3 1437.1 921.0 1435.1 918.7C1433.2 916.5 1431.3 914.1 1429.5 911.7C1427.6 909.4 1425.9 906.9 1424.1 904.5C1422.4 902.0 1420.7 899.6 1419.1 897.0C1417.4 894.5 1415.9 892.0 1414.3 889.4C1412.8 886.8 1411.3 884.2 1409.8 881.6C1408.4 879.0 1406.9 876.3 1405.6 873.7C1404.2 871.0 1402.8 868.3 1401.5 865.6C1400.2 862.9 1399.0 860.2 1397.7 857.4C1396.5 854.7 1395.3 851.9 1394.1 849.2C1393.0 846.4 1391.9 843.6 1390.8 840.8C1389.7 838.0 1388.6 835.2 1387.6 832.4C1386.6 829.6 1385.6 826.7 1384.7 823.9C1383.7 821.0 1382.8 818.2 1381.9 815.3C1381.1 812.4 1380.2 809.5 1379.4 806.7C1378.6 803.8 1377.8 800.9 1377.1 797.9C1376.4 795.0 1375.7 792.1 1375.0 789.2C1374.4 786.3 1373.8 783.3 1373.2 780.4C1372.6 777.4 1372.0 774.5 1371.5 771.5C1371.0 768.6 1370.5 765.6 1370.0 762.6C1369.6 759.7 1369.1 756.7 1368.7 753.7C1368.3 750.8 1367.9 747.8 1367.6 744.8C1367.2 741.8 1366.9 738.8 1366.6 735.8C1366.3 732.9 1366.1 729.9 1365.8 726.9C1365.5 723.9 1365.3 720.9 1365.1 717.9C1364.9 714.9 1364.7 711.9 1364.6 708.9C1364.4 705.9 1364.3 702.9 1364.1 699.9C1364.0 696.9 1363.9 693.9 1363.9 690.9C1363.8 687.9 1363.8 684.9 1363.8 681.9C1363.7 678.9 1363.8 675.9 1363.8 672.9C1363.9 669.9 1363.9 666.9 1364.1 663.9C1364.2 660.9 1364.3 657.9 1364.5 654.9C1364.7 651.9 1364.9 648.9 1365.2 645.9C1365.5 642.9 1365.8 639.9 1366.2 637.0C1366.5 634.0 1366.9 631.0 1367.4 628.0C1367.9 625.1 1368.4 622.1 1368.9 619.2C1369.5 616.2 1370.1 613.3 1370.8 610.4C1371.5 607.4 1372.3 604.5 1373.1 601.6C1373.9 598.8 1374.7 595.9 1375.6 593.0C1376.6 590.2 1377.6 587.3 1378.6 584.5C1379.6 581.7 1380.8 578.9 1381.9 576.1C1383.1 573.4 1384.3 570.6 1385.6 567.9C1386.9 565.2 1388.3 562.5 1389.7 559.9C1391.1 557.3 1392.6 554.6 1394.1 552.1C1395.7 549.5 1397.3 547.0 1399.0 544.5C1400.6 542.0 1402.3 539.5 1404.1 537.1C1405.9 534.7 1407.8 532.3 1409.7 530.0C1411.6 527.7 1413.6 525.4 1415.6 523.3C1417.7 521.1 1419.8 518.9 1422.0 516.8C1424.2 514.8 1426.4 512.8 1428.7 510.9C1431.0 508.9 1433.4 507.1 1435.8 505.3C1438.2 503.6 1440.7 501.9 1443.3 500.3C1445.8 498.7 1448.5 497.3 1451.1 495.9C1453.8 494.5 1456.5 493.2 1459.3 492.1C1462.0 490.9 1464.9 489.8 1467.7 488.9C1470.6 488.0 1473.4 487.1 1476.4 486.4C1479.3 485.7 1482.2 485.1 1485.2 484.6C1488.1 484.2 1491.1 483.8 1494.1 483.6C1497.1 483.3 1500.1 483.2 1503.1 483.2C1506.1 483.1 1509.1 483.2 1512.1 483.5C1515.1 483.7 1518.1 484.0 1521.1 484.4C1524.0 484.8 1527.0 485.3 1529.9 486.0C1532.9 486.6 1535.8 487.3 1538.7 488.1C1541.6 489.0 1544.4 489.9 1547.3 490.9C1550.1 491.9 1552.9 493.0 1555.7 494.1C1558.4 495.3 1561.2 496.5 1563.8 497.9C1566.5 499.2 1569.2 500.6 1571.8 502.1C1574.4 503.6 1577.0 505.1 1579.5 506.7C1582.1 508.3 1584.5 510.0 1587.0 511.8C1589.4 513.5 1591.8 515.3 1594.2 517.2C1596.5 519.0 1598.8 521.0 1601.1 522.9C1603.4 524.9 1605.6 526.9 1607.8 529.0C1609.9 531.1 1612.0 533.2 1614.1 535.4C1616.2 537.6 1618.2 539.8 1620.1 542.1C1622.1 544.3 1624.0 546.7 1625.9 549.0C1627.7 551.4 1629.5 553.8 1631.3 556.2C1633.0 558.7 1634.7 561.1 1636.4 563.7C1638.0 566.2 1639.6 568.7 1641.1 571.3C1642.7 573.9 1644.1 576.5 1645.6 579.1C1647.0 581.8 1648.4 584.5 1649.7 587.1C1651.0 589.8 1652.3 592.6 1653.5 595.3C1654.7 598.0 1655.9 600.8 1657.0 603.6C1658.2 606.4 1659.2 609.2 1660.3 612.0C1661.3 614.8 1662.4 617.6 1663.3 620.5C1664.3 623.3 1665.2 626.1 1666.1 629.0C1667.0 631.9 1667.9 634.7 1668.8 637.6C1669.6 640.5 1670.4 643.4 1671.2 646.3C1672.0 649.2 1672.8 652.1 1673.5 655.0C1674.2 657.9 1675.0 660.8 1675.6 663.8C1676.3 666.7 1677.0 669.6 1677.6 672.5C1678.3 675.5 1678.9 678.4 1679.5 681.3C1680.1 684.3 1680.7 687.2 1681.2 690.2C1681.8 693.1 1682.3 696.1 1682.8 699.1C1683.3 702.0 1683.8 705.0 1684.2 707.9C1684.7 710.9 1685.1 713.9 1685.5 716.9C1685.8 719.8 1686.2 722.8 1686.5 725.8C1686.8 728.8 1687.1 731.8 1687.4 734.8C1687.6 737.8 1687.9 740.8 1688.0 743.8C1688.2 746.7 1688.4 749.7 1688.5 752.7C1688.6 755.7 1688.6 758.8 1688.7 761.8C1688.7 764.8 1688.7 767.8 1688.7 770.8C1688.6 773.8 1688.6 776.8 1688.5 779.8C1688.4 782.8 1688.2 785.8 1688.0 788.8C1687.9 791.8 1687.7 794.7 1687.4 797.7C1687.2 800.7 1686.9 803.7 1686.7 806.7C1686.4 809.7 1686.0 812.7 1685.7 815.7C1685.4 818.7 1685.0 821.6 1684.6 824.6C1684.2 827.6 1683.8 830.6 1683.3 833.5C1682.9 836.5 1682.4 839.5 1681.9 842.4C1681.4 845.4 1680.8 848.3 1680.3 851.3C1679.7 854.2 1679.1 857.2 1678.4 860.1C1677.8 863.0 1677.1 865.9 1676.3 868.9C1675.6 871.8 1674.8 874.7 1674.0 877.5C1673.2 880.4 1672.3 883.3 1671.3 886.1C1670.4 889.0 1669.4 891.8 1668.3 894.6C1667.2 897.4 1666.0 900.2 1664.8 902.9C1663.6 905.7 1662.3 908.4 1660.9 911.0C1659.5 913.7 1658.0 916.3 1656.5 918.9C1655.0 921.5 1653.3 924.0 1651.6 926.5C1649.9 928.9 1648.1 931.3 1646.2 933.7C1644.3 936.0 1642.4 938.3 1640.3 940.5C1638.3 942.7 1636.2 944.8 1634.0 946.9C1631.8 948.9 1629.5 950.9 1627.2 952.8C1624.9 954.7 1622.4 956.5 1620.0 958.2C1617.5 959.9 1615.0 961.5 1612.4 963.0C1609.8 964.5 1607.1 965.9 1604.4 967.2C1601.7 968.5 1599.0 969.7 1596.2 970.8C1593.4 971.9 1590.5 972.9 1587.7 973.7C1584.8 974.6 1581.9 975.3 1578.9 976.0C1576.0 976.6 1573.0 977.1 1570.0 977.5Z" fill="#FF8000"/>
<path d="M675.0 875.6C672.0 876.1 669.0 876.3 666.1 876.4C663.1 876.5 660.1 876.3 657.1 876.0C654.1 875.6 651.2 875.0 648.3 874.3C645.4 873.5 642.5 872.6 639.8 871.4C637.0 870.3 634.3 869.0 631.7 867.5C629.1 866.1 626.5 864.4 624.1 862.7C621.7 861.0 619.3 859.1 617.1 857.1C614.9 855.1 612.7 853.0 610.7 850.8C608.6 848.6 606.7 846.3 604.9 844.0C603.0 841.6 601.3 839.2 599.6 836.7C598.0 834.2 596.4 831.6 594.9 829.0C593.5 826.4 592.1 823.7 590.8 821.0C589.5 818.3 588.3 815.6 587.1 812.8C586.0 810.0 585.0 807.2 584.0 804.4C583.0 801.6 582.1 798.7 581.3 795.8C580.4 793.0 579.7 790.1 579.0 787.2C578.3 784.3 577.6 781.3 577.1 778.4C576.5 775.4 576.0 772.5 575.6 769.5C575.2 766.6 574.8 763.6 574.5 760.6C574.1 757.6 573.9 754.6 573.7 751.7C573.5 748.7 573.3 745.7 573.2 742.7C573.2 739.7 573.1 736.7 573.1 733.7C573.1 730.7 573.2 727.7 573.3 724.7C573.4 721.7 573.6 718.7 573.8 715.7C574.0 712.8 574.3 709.8 574.6 706.8C574.9 703.8 575.3 700.8 575.7 697.9C576.1 694.9 576.6 692.0 577.1 689.0C577.6 686.1 578.1 683.1 578.7 680.2C579.3 677.2 580.0 674.3 580.7 671.4C581.4 668.5 582.2 665.6 583.0 662.7C583.8 659.8 584.6 657.0 585.6 654.1C586.5 651.3 587.5 648.4 588.5 645.6C589.5 642.8 590.6 640.0 591.7 637.2C592.9 634.5 594.1 631.7 595.3 629.0C596.6 626.3 597.9 623.6 599.3 621.0C600.7 618.3 602.1 615.7 603.7 613.1C605.2 610.5 606.7 608.0 608.4 605.5C610.0 603.0 611.7 600.5 613.5 598.1C615.3 595.7 617.1 593.3 619.1 591.0C621.0 588.7 623.0 586.5 625.0 584.3C627.1 582.1 629.2 580.0 631.5 578.0C633.7 576.0 636.0 574.1 638.3 572.3C640.7 570.4 643.2 568.7 645.7 567.1C648.2 565.5 650.8 564.0 653.5 562.6C656.1 561.2 658.9 560.0 661.7 558.9C664.4 557.8 667.3 556.9 670.2 556.1C673.1 555.3 676.0 554.7 679.0 554.3C681.9 553.8 684.9 553.6 687.9 553.5C690.9 553.4 693.9 553.4 696.9 553.7C699.9 553.9 702.9 554.3 705.8 554.9C708.7 555.5 711.6 556.3 714.5 557.2C717.3 558.1 720.1 559.2 722.9 560.4C725.6 561.7 728.2 563.1 730.8 564.6C733.4 566.2 735.8 567.9 738.2 569.7C740.6 571.5 742.8 573.5 745.0 575.6C747.1 577.7 749.2 579.9 751.1 582.2C753.0 584.4 754.8 586.8 756.5 589.3C758.2 591.8 759.8 594.3 761.3 596.9C762.8 599.5 764.1 602.2 765.4 604.9C766.6 607.6 767.8 610.4 768.9 613.2C770.0 616.0 770.9 618.8 771.8 621.7C772.7 624.5 773.5 627.4 774.2 630.3C775.0 633.2 775.6 636.2 776.2 639.1C776.7 642.0 777.2 645.0 777.7 648.0C778.1 650.9 778.4 653.9 778.7 656.9C779.0 659.9 779.3 662.9 779.5 665.8C779.6 668.8 779.8 671.8 779.8 674.8C779.9 677.8 779.9 680.8 779.9 683.8C779.9 686.8 779.8 689.8 779.7 692.8C779.5 695.8 779.4 698.8 779.2 701.8C779.0 704.7 778.7 707.7 778.4 710.7C778.1 713.7 777.8 716.7 777.4 719.6C777.0 722.6 776.6 725.6 776.2 728.5C775.7 731.5 775.2 734.4 774.7 737.4C774.2 740.3 773.6 743.3 773.0 746.2C772.4 749.1 771.7 752.1 771.0 755.0C770.3 757.9 769.5 760.8 768.7 763.7C767.9 766.6 767.1 769.4 766.2 772.3C765.3 775.1 764.3 778.0 763.3 780.8C762.3 783.6 761.3 786.4 760.1 789.2C759.0 792.0 757.9 794.7 756.6 797.5C755.4 800.2 754.1 802.9 752.8 805.6C751.4 808.3 750.0 810.9 748.5 813.5C747.1 816.1 745.5 818.7 744.0 821.2C742.4 823.8 740.7 826.3 739.0 828.7C737.3 831.2 735.5 833.6 733.7 835.9C731.8 838.3 729.9 840.6 727.9 842.9C725.9 845.1 723.9 847.3 721.8 849.4C719.7 851.5 717.5 853.6 715.2 855.5C712.9 857.5 710.6 859.4 708.2 861.1C705.8 862.9 703.3 864.6 700.7 866.1C698.1 867.6 695.4 869.0 692.7 870.2C690.0 871.4 687.3 872.5 684.3 873.4C681.4 874.3 678.0 875.1 675.0 875.6Z" fill="#FF0000"/>
<path d="M1555.0 897.5C1552.0 897.9 1549.0 898.0 1546.0 898.1C1543.0 898.1 1540.0 897.9 1537.0 897.6C1534.0 897.3 1531.1 896.8 1528.1 896.2C1525.2 895.6 1522.3 894.9 1519.4 894.0C1516.5 893.1 1513.7 892.1 1510.9 891.0C1508.1 889.9 1505.4 888.7 1502.7 887.3C1500.0 886.0 1497.4 884.6 1494.8 883.0C1492.2 881.5 1489.7 879.8 1487.2 878.1C1484.8 876.4 1482.4 874.6 1480.1 872.7C1477.7 870.8 1475.5 868.8 1473.3 866.8C1471.1 864.7 1469.0 862.6 1466.9 860.4C1464.9 858.2 1462.9 856.0 1460.9 853.7C1459.0 851.4 1457.2 849.0 1455.4 846.6C1453.6 844.2 1451.9 841.7 1450.2 839.2C1448.5 836.7 1446.9 834.2 1445.4 831.6C1443.9 829.0 1442.4 826.4 1441.0 823.7C1439.6 821.1 1438.3 818.4 1437.0 815.7C1435.7 813.0 1434.5 810.2 1433.3 807.5C1432.2 804.7 1431.1 801.9 1430.1 799.1C1429.0 796.2 1428.1 793.4 1427.1 790.5C1426.2 787.7 1425.4 784.8 1424.6 781.9C1423.8 779.0 1423.1 776.1 1422.4 773.2C1421.7 770.3 1421.1 767.3 1420.5 764.4C1419.9 761.4 1419.4 758.5 1418.9 755.5C1418.5 752.5 1418.1 749.6 1417.7 746.6C1417.3 743.6 1417.0 740.6 1416.7 737.6C1416.4 734.6 1416.2 731.7 1416.0 728.7C1415.8 725.7 1415.6 722.7 1415.5 719.7C1415.4 716.7 1415.3 713.7 1415.3 710.7C1415.3 707.7 1415.3 704.7 1415.3 701.7C1415.4 698.7 1415.5 695.7 1415.6 692.7C1415.7 689.7 1415.9 686.7 1416.1 683.7C1416.3 680.7 1416.6 677.7 1416.9 674.7C1417.2 671.7 1417.6 668.7 1418.0 665.8C1418.4 662.8 1418.9 659.8 1419.4 656.9C1420.0 653.9 1420.6 651.0 1421.2 648.1C1421.9 645.1 1422.6 642.2 1423.5 639.3C1424.3 636.4 1425.2 633.6 1426.1 630.7C1427.1 627.9 1428.1 625.1 1429.3 622.3C1430.4 619.5 1431.6 616.8 1432.9 614.1C1434.2 611.4 1435.6 608.7 1437.1 606.1C1438.6 603.5 1440.1 600.9 1441.8 598.4C1443.5 595.9 1445.2 593.5 1447.1 591.1C1448.9 588.7 1450.9 586.4 1452.9 584.2C1454.9 582.0 1457.1 579.9 1459.3 577.9C1461.5 575.9 1463.9 574.0 1466.3 572.2C1468.7 570.4 1471.2 568.7 1473.8 567.2C1476.3 565.7 1479.0 564.3 1481.8 563.1C1484.5 561.9 1487.3 560.9 1490.2 560.0C1493.1 559.1 1496.0 558.4 1499.0 557.9C1501.9 557.4 1504.9 557.1 1507.9 557.0C1510.9 556.9 1513.9 556.9 1516.9 557.2C1519.9 557.4 1522.9 557.9 1525.8 558.4C1528.8 559.0 1531.7 559.8 1534.6 560.6C1537.4 561.5 1540.3 562.5 1543.0 563.7C1545.8 564.8 1548.5 566.1 1551.2 567.5C1553.9 568.8 1556.5 570.3 1559.0 571.9C1561.6 573.4 1564.1 575.1 1566.6 576.8C1569.0 578.6 1571.4 580.4 1573.7 582.3C1576.1 584.2 1578.3 586.1 1580.6 588.2C1582.8 590.2 1584.9 592.3 1587.0 594.4C1589.1 596.6 1591.1 598.8 1593.1 601.1C1595.0 603.4 1596.9 605.7 1598.7 608.1C1600.6 610.5 1602.3 612.9 1604.0 615.4C1605.7 617.9 1607.3 620.4 1608.8 623.0C1610.3 625.6 1611.8 628.2 1613.2 630.9C1614.6 633.5 1615.9 636.2 1617.1 639.0C1618.4 641.7 1619.6 644.5 1620.7 647.2C1621.8 650.0 1622.9 652.8 1623.9 655.7C1624.9 658.5 1625.8 661.3 1626.7 664.2C1627.6 667.1 1628.4 670.0 1629.1 672.9C1629.9 675.8 1630.6 678.7 1631.3 681.6C1631.9 684.6 1632.6 687.5 1633.1 690.4C1633.7 693.4 1634.2 696.4 1634.6 699.3C1635.1 702.3 1635.5 705.3 1635.9 708.2C1636.2 711.2 1636.6 714.2 1636.8 717.2C1637.1 720.2 1637.3 723.2 1637.5 726.2C1637.6 729.2 1637.8 732.2 1637.8 735.2C1637.9 738.2 1637.9 741.2 1637.9 744.2C1637.8 747.2 1637.8 750.2 1637.6 753.2C1637.5 756.2 1637.3 759.2 1637.1 762.2C1636.9 765.2 1636.6 768.2 1636.3 771.1C1636.0 774.1 1635.6 777.1 1635.2 780.1C1634.8 783.0 1634.3 786.0 1633.8 789.0C1633.3 791.9 1632.7 794.9 1632.1 797.8C1631.5 800.8 1630.9 803.7 1630.2 806.6C1629.5 809.5 1628.8 812.4 1628.0 815.3C1627.2 818.2 1626.3 821.1 1625.4 824.0C1624.5 826.8 1623.6 829.7 1622.5 832.5C1621.5 835.3 1620.4 838.1 1619.3 840.9C1618.1 843.7 1616.9 846.4 1615.6 849.1C1614.2 851.8 1612.8 854.5 1611.3 857.1C1609.8 859.6 1608.2 862.2 1606.5 864.7C1604.8 867.1 1603.0 869.5 1601.1 871.8C1599.2 874.1 1597.1 876.3 1594.9 878.4C1592.8 880.5 1590.5 882.4 1588.1 884.2C1585.7 886.0 1583.2 887.7 1580.6 889.2C1578.0 890.6 1575.2 892.0 1572.4 893.1C1569.7 894.2 1566.8 895.1 1563.9 895.8C1561.0 896.6 1558.0 897.1 1555.0 897.5Z" fill="#FF0000"/>
<path d="M1974.0 184.1C1972.5 184.0 1968.0 183.7 1965.0 183.5C1962.0 183.3 1959.0 183.1 1956.0 183.0C1953.0 182.8 1950.0 182.6 1947.0 182.5C1944.0 182.4 1941.0 182.2 1938.0 182.1C1934.9 182.0 1931.9 181.9 1928.9 181.8C1925.9 181.7 1922.9 181.7 1919.9 181.6C1916.9 181.5 1913.9 181.5 1910.9 181.5C1907.9 181.4 1904.9 181.4 1901.9 181.4C1898.8 181.4 1895.8 181.3 1892.8 181.4C1889.8 181.4 1886.8 181.4 1883.8 181.4C1880.8 181.4 1877.8 181.5 1874.8 181.5C1871.8 181.6 1868.8 181.6 1865.8 181.7C1862.7 181.8 1859.7 181.9 1856.7 182.0C1853.7 182.1 1850.7 182.2 1847.7 182.3C1844.7 182.5 1841.7 182.6 1838.7 182.8C1835.7 182.9 1832.7 183.1 1829.7 183.3C1826.7 183.5 1823.7 183.7 1820.7 183.9C1817.7 184.2 1814.7 184.4 1811.7 184.7C1808.7 185.0 1805.7 185.3 1802.7 185.6C1799.7 185.9 1796.7 186.2 1793.7 186.6C1790.7 187.0 1787.8 187.4 1784.8 187.9C1781.8 188.3 1778.8 188.8 1775.9 189.3C1772.9 189.9 1770.0 190.4 1767.0 191.1C1764.1 191.7 1761.2 192.4 1758.3 193.2C1755.4 194.0 1752.5 194.8 1749.6 195.8C1746.8 196.8 1744.0 197.9 1741.3 199.2C1738.5 200.5 1735.8 201.9 1733.4 203.6C1731.0 205.4 1728.5 207.3 1726.6 209.6C1724.7 211.8 1723.1 214.5 1722.0 217.3C1720.9 220.0 1720.4 223.1 1720.1 226.1C1719.9 229.0 1720.2 232.1 1720.5 235.1C1720.8 238.0 1721.5 241.0 1722.2 243.9C1722.8 246.9 1723.7 249.8 1724.5 252.6C1725.4 255.5 1726.4 258.4 1727.3 261.2C1728.3 264.1 1729.3 266.9 1730.4 269.7C1731.4 272.5 1732.4 275.4 1733.5 278.2C1734.6 281.0 1735.6 283.8 1736.7 286.6C1737.8 289.4 1738.8 292.2 1739.9 295.1C1741.0 297.9 1742.0 300.7 1743.1 303.5C1744.2 306.3 1745.2 309.1 1746.2 312.0C1747.3 314.8 1748.3 317.6 1749.3 320.4C1750.3 323.3 1751.4 326.1 1752.3 329.0C1753.3 331.8 1754.3 334.6 1755.3 337.5C1756.3 340.3 1757.2 343.2 1758.1 346.1C1759.1 348.9 1760.0 351.8 1760.9 354.6C1761.9 357.5 1762.8 360.4 1763.7 363.2C1764.5 366.1 1765.4 369.0 1766.3 371.9C1767.2 374.8 1768.0 377.6 1768.9 380.5C1769.7 383.4 1770.6 386.3 1771.4 389.2C1772.3 392.1 1773.1 395.0 1773.9 397.9C1774.7 400.8 1775.6 403.7 1776.4 406.5C1777.2 409.4 1778.0 412.3 1778.8 415.2C1779.6 418.1 1780.4 421.0 1781.2 424.0C1781.9 426.9 1782.7 429.8 1783.5 432.7C1784.3 435.6 1785.1 438.5 1785.8 441.4C1786.6 444.3 1787.3 447.2 1788.1 450.1C1788.8 453.1 1789.6 456.0 1790.3 458.9C1791.0 461.8 1791.7 464.7 1792.4 467.7C1793.1 470.6 1793.8 473.5 1794.5 476.4C1795.2 479.4 1795.8 482.3 1796.5 485.2C1797.2 488.2 1797.8 491.1 1798.4 494.1C1799.0 497.0 1799.7 500.0 1800.2 502.9C1800.8 505.9 1801.4 508.8 1802.0 511.8C1802.6 514.7 1803.1 517.7 1803.6 520.6C1804.2 523.6 1804.7 526.6 1805.2 529.5C1805.7 532.5 1806.2 535.5 1806.7 538.4C1807.2 541.4 1807.7 544.4 1808.1 547.3C1808.6 550.3 1809.1 553.3 1809.5 556.3C1810.0 559.2 1810.4 562.2 1810.8 565.2C1811.3 568.2 1811.7 571.1 1812.1 574.1C1812.6 577.1 1813.0 580.1 1813.4 583.1C1813.8 586.0 1814.3 589.0 1814.7 592.0C1815.1 595.0 1815.5 598.0 1815.9 600.9C1816.3 603.9 1816.8 606.9 1817.2 609.9C1817.6 612.9 1818.0 615.8 1818.4 618.8C1818.8 621.8 1819.3 624.8 1819.7 627.8C1820.1 630.7 1820.5 633.7 1820.9 636.7C1821.4 639.7 1821.8 642.7 1822.2 645.6C1822.6 648.6 1823.0 651.6 1823.5 654.6C1823.9 657.5 1824.3 660.5 1824.7 663.5C1825.1 666.5 1825.5 669.5 1826.0 672.4C1826.4 675.4 1826.8 678.4 1827.2 681.4C1827.6 684.4 1828.1 687.3 1828.5 690.3C1828.9 693.3 1829.3 696.3 1829.8 699.3C1830.2 702.2 1830.6 705.2 1831.1 708.2C1831.5 711.2 1831.9 714.1 1832.4 717.1C1832.9 720.1 1833.3 723.1 1833.8 726.0C1834.2 729.0 1834.7 732.0 1835.2 735.0C1835.7 737.9 1836.2 740.9 1836.7 743.9C1837.2 746.8 1837.8 749.8 1838.3 752.7C1838.9 755.7 1839.4 758.7 1840.0 761.6C1840.6 764.6 1841.2 767.5 1841.8 770.4C1842.4 773.4 1843.1 776.3 1843.8 779.3C1844.4 782.2 1845.1 785.1 1845.8 788.0C1846.6 791.0 1847.3 793.9 1848.1 796.8C1848.9 799.7 1849.7 802.6 1850.5 805.5C1851.3 808.4 1852.2 811.3 1853.1 814.1C1854.0 817.0 1854.9 819.9 1855.8 822.7C1856.8 825.6 1857.8 828.4 1858.8 831.3C1859.8 834.1 1860.9 836.9 1862.0 839.7C1863.1 842.5 1864.2 845.3 1865.4 848.0C1866.6 850.8 1867.8 853.6 1869.1 856.3C1870.4 859.0 1871.7 861.7 1873.0 864.4C1874.4 867.1 1875.8 869.8 1877.2 872.4C1878.7 875.0 1880.2 877.7 1881.7 880.2C1883.3 882.8 1884.9 885.4 1886.6 887.9C1888.2 890.4 1889.9 892.8 1891.7 895.3C1893.5 897.7 1895.3 900.1 1897.2 902.4C1899.1 904.8 1901.0 907.1 1903.1 909.3C1905.1 911.5 1907.2 913.7 1909.3 915.8C1911.5 917.9 1913.7 919.9 1916.0 921.9C1918.3 923.8 1920.7 925.6 1923.2 927.3C1925.7 929.0 1928.2 930.6 1930.9 932.0C1933.6 933.4 1936.4 934.6 1939.2 935.5C1942.1 936.4 1945.0 937.2 1948.0 937.5C1951.0 937.8 1954.0 937.8 1957.0 937.5C1960.0 937.2 1963.0 936.4 1965.8 935.5C1968.6 934.5 1972.6 932.4 1974.0 931.8Z" fill="#0080FF" stroke="none"/>
<path d="M1974.0 184.1C1972.5 184.0 1968.0 183.7 1965.0 183.5C1962.0 183.3 1959.0 183.1 1956.0 183.0C1953.0 182.8 1950.0 182.6 1947.0 182.5C1944.0 182.4 1941.0 182.2 1938.0 182.1C1934.9 182.0 1931.9 181.9 1928.9 181.8C1925.9 181.7 1922.9 181.7 1919.9 181.6C1916.9 181.5 1913.9 181.5 1910.9 181.5C1907.9 181.4 1904.9 181.4 1901.9 181.4C1898.8 181.4 1895.8 181.3 1892.8 181.4C1889.8 181.4 1886.8 181.4 1883.8 181.4C1880.8 181.4 1877.8 181.5 1874.8 181.5C1871.8 181.6 1868.8 181.6 1865.8 181.7C1862.7 181.8 1859.7 181.9 1856.7 182.0C1853.7 182.1 1850.7 182.2 1847.7 182.3C1844.7 182.5 1841.7 182.6 1838.7 182.8C1835.7 182.9 1832.7 183.1 1829.7 183.3C1826.7 183.5 1823.7 183.7 1820.7 183.9C1817.7 184.2 1814.7 184.4 1811.7 184.7C1808.7 185.0 1805.7 185.3 1802.7 185.6C1799.7 185.9 1796.7 186.2 1793.7 186.6C1790.7 187.0 1787.8 187.4 1784.8 187.9C1781.8 188.3 1778.8 188.8 1775.9 189.3C1772.9 189.9 1770.0 190.4 1767.0 191.1C1764.1 191.7 1761.2 192.4 1758.3 193.2C1755.4 194.0 1752.5 194.8 1749.6 195.8C1746.8 196.8 1744.0 197.9 1741.3 199.2C1738.5 200.5 1735.8 201.9 1733.4 203.6C1731.0 205.4 1728.5 207.3 1726.6 209.6C1724.7 211.8 1723.1 214.5 1722.0 217.3C1720.9 220.0 1720.4 223.1 1720.1 226.1C1719.9 229.0 1720.2 232.1 1720.5 235.1C1720.8 238.0 1721.5 241.0 1722.2 243.9C1722.8 246.9 1723.7 249.8 1724.5 252.6C1725.4 255.5 1726.4 258.4 1727.3 261.2C1728.3 264.1 1729.3 266.9 1730.4 269.7C1731.4 272.5 1732.4 275.4 1733.5 278.2C1734.6 281.0 1735.6 283.8 1736.7 286.6C1737.8 289.4 1738.8 292.2 1739.9 295.1C1741.0 297.9 1742.0 300.7 1743.1 303.5C1744.2 306.3 1745.2 309.1 1746.2 312.0C1747.3 314.8 1748.3 317.6 1749.3 320.4C1750.3 323.3 1751.4 326.1 1752.3 329.0C1753.3 331.8 1754.3 334.6 1755.3 337.5C1756.3 340.3 1757.2 343.2 1758.1 346.1C1759.1 348.9 1760.0 351.8 1760.9 354.6C1761.9 357.5 1762.8 360.4 1763.7 363.2C1764.5 366.1 1765.4 369.0 1766.3 371.9C1767.2 374.8 1768.0 377.6 1768.9 380.5C1769.7 383.4 1770.6 386.3 1771.4 389.2C1772.3 392.1 1773.1 395.0 1773.9 397.9C1774.7 400.8 1775.6 403.7 1776.4 406.5C1777.2 409.4 1778.0 412.3 1778.8 415.2C1779.6 418.1 1780.4 421.0 1781.2 424.0C1781.9 426.9 1782.7 429.8 1783.5 432.7C1784.3 435.6 1785.1 438.5 1785.8 441.4C1786.6 444.3 1787.3 447.2 1788.1 450.1C1788.8 453.1 1789.6 456.0 1790.3 458.9C1791.0 461.8 1791.7 464.7 1792.4 467.7C1793.1 470.6 1793.8 473.5 1794.5 476.4C1795.2 479.4 1795.8 482.3 1796.5 485.2C1797.2 488.2 1797.8 491.1 1798.4 494.1C1799.0 497.0 1799.7 500.0 1800.2 502.9C1800.8 505.9 1801.4 508.8 1802.0 511.8C1802.6 514.7 1803.1 517.7 1803.6 520.6C1804.2 523.6 1804.7 526.6 1805.2 529.5C1805.7 532.5 1806.2 535.5 1806.7 538.4C1807.2 541.4 1807.7 544.4 1808.1 547.3C1808.6 550.3 1809.1 553.3 1809.5 556.3C1810.0 559.2 1810.4 562.2 1810.8 565.2C1811.3 568.2 1811.7 571.1 1812.1 574.1C1812.6 577.1 1813.0 580.1 1813.4 583.1C1813.8 586.0 1814.3 589.0 1814.7 592.0C1815.1 595.0 1815.5 598.0 1815.9 600.9C1816.3 603.9 1816.8 606.9 1817.2 609.9C1817.6 612.9 1818.0 615.8 1818.4 618.8C1818.8 621.8 1819.3 624.8 1819.7 627.8C1820.1 630.7 1820.5 633.7 1820.9 636.7C1821.4 639.7 1821.8 642.7 1822.2 645.6C1822.6 648.6 1823.0 651.6 1823.5 654.6C1823.9 657.5 1824.3 660.5 1824.7 663.5C1825.1 666.5 1825.5 669.5 1826.0 672.4C1826.4 675.4 1826.8 678.4 1827.2 681.4C1827.6 684.4 1828.1 687.3 1828.5 690.3C1828.9 693.3 1829.3 696.3 1829.8 699.3C1830.2 702.2 1830.6 705.2 1831.1 708.2C1831.5 711.2 1831.9 714.1 1832.4 717.1C1832.9 720.1 1833.3 723.1 1833.8 726.0C1834.2 729.0 1834.7 732.0 1835.2 735.0C1835.7 737.9 1836.2 740.9 1836.7 743.9C1837.2 746.8 1837.8 749.8 1838.3 752.7C1838.9 755.7 1839.4 758.7 1840.0 761.6C1840.6 764.6 1841.2 767.5 1841.8 770.4C1842.4 773.4 1843.1 776.3 1843.8 779.3C1844.4 782.2 1845.1 785.1 1845.8 788.0C1846.6 791.0 1847.3 793.9 1848.1 796.8C1848.9 799.7 1849.7 802.6 1850.5 805.5C1851.3 808.4 1852.2 811.3 1853.1 814.1C1854.0 817.0 1854.9 819.9 1855.8 822.7C1856.8 825.6 1857.8 828.4 1858.8 831.3C1859.8 834.1 1860.9 836.9 1862.0 839.7C1863.1 842.5 1864.2 845.3 1865.4 848.0C1866.6 850.8 1867.8 853.6 1869.1 856.3C1870.4 859.0 1871.7 861.7 1873.0 864.4C1874.4 867.1 1875.8 869.8 1877.2 872.4C1878.7 875.0 1880.2 877.7 1881.7 880.2C1883.3 882.8 1884.9 885.4 1886.6 887.9C1888.2 890.4 1889.9 892.8 1891.7 895.3C1893.5 897.7 1895.3 900.1 1897.2 902.4C1899.1 904.8 1901.0 907.1 1903.1 909.3C1905.1 911.5 1907.2 913.7 1909.3 915.8C1911.5 917.9 1913.7 919.9 1916.0 921.9C1918.3 923.8 1920.7 925.6 1923.2 927.3C1925.7 929.0 1928.2 930.6 1930.9 932.0C1933.6 933.4 1936.4 934.6 1939.2 935.5C1942.1 936.4 1945.0 937.2 1948.0 937.5C1951.0 937.8 1954.0 937.8 1957.0 937.5C1960.0 937.2 1963.0 936.4 1965.8 935.5C1968.6 934.5 1972.6 932.4 1974.0 931.8" fill="none"/>
<path d="M236.0 934.0C237.4 934.5 241.7 936.2 244.6 936.8C247.5 937.4 250.6 937.8 253.6 937.7C256.5 937.7 259.6 937.3 262.5 936.7C265.4 936.0 268.3 934.9 271.0 933.7C273.7 932.5 276.4 930.9 278.9 929.2C281.4 927.6 283.8 925.7 286.0 923.8C288.3 921.8 290.5 919.7 292.5 917.5C294.6 915.3 296.6 913.0 298.5 910.7C300.4 908.4 302.2 905.9 303.9 903.5C305.6 901.0 307.2 898.5 308.8 895.9C310.4 893.3 311.9 890.7 313.3 888.0C314.7 885.4 316.1 882.7 317.4 880.0C318.7 877.3 319.9 874.5 321.1 871.7C322.2 869.0 323.4 866.2 324.5 863.4C325.5 860.6 326.6 857.7 327.6 854.9C328.6 852.0 329.5 849.2 330.4 846.3C331.3 843.4 332.2 840.6 333.1 837.7C333.9 834.8 334.7 831.9 335.5 829.0C336.3 826.1 337.1 823.2 337.9 820.3C338.6 817.3 339.3 814.4 340.1 811.5C340.8 808.6 341.5 805.6 342.1 802.7C342.8 799.8 343.5 796.8 344.1 793.9C344.8 791.0 345.4 788.0 346.0 785.1C346.7 782.1 347.3 779.2 347.9 776.2C348.5 773.3 349.0 770.3 349.6 767.4C350.2 764.4 350.7 761.4 351.3 758.5C351.8 755.5 352.4 752.6 352.9 749.6C353.4 746.6 353.9 743.7 354.4 740.7C354.9 737.7 355.4 734.7 355.9 731.8C356.3 728.8 356.8 725.8 357.2 722.8C357.7 719.9 358.1 716.9 358.6 713.9C359.0 710.9 359.4 707.9 359.8 705.0C360.2 702.0 360.6 699.0 361.0 696.0C361.4 693.0 361.8 690.0 362.2 687.1C362.6 684.1 363.0 681.1 363.3 678.1C363.7 675.1 364.1 672.1 364.5 669.1C364.8 666.1 365.2 663.1 365.6 660.2C365.9 657.2 366.3 654.2 366.7 651.2C367.0 648.2 367.4 645.2 367.8 642.2C368.1 639.2 368.5 636.2 368.9 633.3C369.2 630.3 369.6 627.3 370.0 624.3C370.3 621.3 370.7 618.3 371.1 615.3C371.4 612.3 371.8 609.4 372.2 606.4C372.6 603.4 372.9 600.4 373.3 597.4C373.7 594.4 374.0 591.4 374.4 588.4C374.8 585.4 375.1 582.5 375.5 579.5C375.9 576.5 376.2 573.5 376.6 570.5C377.0 567.5 377.3 564.5 377.7 561.5C378.0 558.5 378.4 555.6 378.8 552.6C379.1 549.6 379.5 546.6 379.8 543.6C380.2 540.6 380.5 537.6 380.9 534.6C381.2 531.6 381.5 528.6 381.9 525.6C382.2 522.7 382.6 519.7 382.9 516.7C383.3 513.7 383.6 510.7 384.0 507.7C384.3 504.7 384.7 501.7 385.0 498.7C385.4 495.7 385.8 492.7 386.1 489.8C386.5 486.8 386.9 483.8 387.2 480.8C387.6 477.8 388.0 474.8 388.4 471.8C388.8 468.8 389.2 465.9 389.6 462.9C389.9 459.9 390.3 456.9 390.8 453.9C391.2 450.9 391.6 448.0 392.0 445.0C392.4 442.0 392.8 439.0 393.2 436.0C393.7 433.0 394.1 430.1 394.5 427.1C394.9 424.1 395.4 421.1 395.8 418.1C396.2 415.2 396.6 412.2 397.1 409.2C397.5 406.2 397.9 403.2 398.3 400.3C398.8 397.3 399.2 394.3 399.6 391.3C400.0 388.3 400.4 385.3 400.8 382.4C401.2 379.4 401.6 376.4 402.0 373.4C402.4 370.4 402.8 367.4 403.2 364.4C403.5 361.5 403.9 358.5 404.3 355.5C404.6 352.5 405.0 349.5 405.3 346.5C405.7 343.5 406.0 340.5 406.4 337.5C406.7 334.5 407.0 331.5 407.3 328.6C407.7 325.6 408.0 322.6 408.3 319.6C408.6 316.6 408.8 313.6 409.1 310.6C409.4 307.6 409.6 304.6 409.9 301.6C410.1 298.6 410.3 295.6 410.5 292.6C410.7 289.6 410.8 286.5 410.9 283.5C411.0 280.5 411.1 277.5 411.1 274.5C411.1 271.5 411.1 268.5 411.0 265.5C410.8 262.5 410.6 259.5 410.3 256.5C410.0 253.5 409.6 250.5 409.0 247.5C408.4 244.6 407.6 241.7 406.7 238.8C405.7 236.0 404.6 233.1 403.2 230.5C401.8 227.8 400.2 225.2 398.4 222.8C396.6 220.5 394.5 218.2 392.3 216.2C390.1 214.1 387.8 212.2 385.3 210.5C382.8 208.8 380.2 207.3 377.6 205.8C374.9 204.4 372.2 203.2 369.4 202.0C366.6 200.8 363.8 199.7 361.0 198.8C358.1 197.8 355.2 196.9 352.3 196.1C349.4 195.2 346.5 194.5 343.6 193.8C340.7 193.1 337.7 192.5 334.8 191.9C331.8 191.3 328.9 190.7 325.9 190.2C322.9 189.7 320.0 189.2 317.0 188.7C314.0 188.3 311.0 187.9 308.0 187.5C305.0 187.1 302.1 186.7 299.1 186.4C296.1 186.1 293.1 185.7 290.1 185.5C287.1 185.2 284.1 184.9 281.1 184.6C278.1 184.4 275.1 184.1 272.1 183.9C269.1 183.7 266.1 183.5 263.1 183.3C260.1 183.1 257.1 183.0 254.0 182.8C251.0 182.6 248.0 182.5 245.0 182.4C242.0 182.2 237.5 182.1 236.0 182.0Z" fill="#0080FF" stroke="none"/>
<path d="M236.0 934.0C237.4 934.5 241.7 936.2 244.6 936.8C247.5 937.4 250.6 937.8 253.6 937.7C256.5 937.7 259.6 937.3 262.5 936.7C265.4 936.0 268.3 934.9 271.0 933.7C273.7 932.5 276.4 930.9 278.9 929.2C281.4 927.6 283.8 925.7 286.0 923.8C288.3 921.8 290.5 919.7 292.5 917.5C294.6 915.3 296.6 913.0 298.5 910.7C300.4 908.4 302.2 905.9 303.9 903.5C305.6 901.0 307.2 898.5 308.8 895.9C310.4 893.3 311.9 890.7 313.3 888.0C314.7 885.4 316.1 882.7 317.4 880.0C318.7 877.3 319.9 874.5 321.1 871.7C322.2 869.0 323.4 866.2 324.5 863.4C325.5 860.6 326.6 857.7 327.6 854.9C328.6 852.0 329.5 849.2 330.4 846.3C331.3 843.4 332.2 840.6 333.1 837.7C333.9 834.8 334.7 831.9 335.5 829.0C336.3 826.1 337.1 823.2 337.9 820.3C338.6 817.3 339.3 814.4 340.1 811.5C340.8 808.6 341.5 805.6 342.1 802.7C342.8 799.8 343.5 796.8 344.1 793.9C344.8 791.0 345.4 788.0 346.0 785.1C346.7 782.1 347.3 779.2 347.9 776.2C348.5 773.3 349.0 770.3 349.6 767.4C350.2 764.4 350.7 761.4 351.3 758.5C351.8 755.5 352.4 752.6 352.9 749.6C353.4 746.6 353.9 743.7 354.4 740.7C354.9 737.7 355.4 734.7 355.9 731.8C356.3 728.8 356.8 725.8 357.2 722.8C357.7 719.9 358.1 716.9 358.6 713.9C359.0 710.9 359.4 707.9 359.8 705.0C360.2 702.0 360.6 699.0 361.0 696.0C361.4 693.0 361.8 690.0 362.2 687.1C362.6 684.1 363.0 681.1 363.3 678.1C363.7 675.1 364.1 672.1 364.5 669.1C364.8 666.1 365.2 663.1 365.6 660.2C365.9 657.2 366.3 654.2 366.7 651.2C367.0 648.2 367.4 645.2 367.8 642.2C368.1 639.2 368.5 636.2 368.9 633.3C369.2 630.3 369.6 627.3 370.0 624.3C370.3 621.3 370.7 618.3 371.1 615.3C371.4 612.3 371.8 609.4 372.2 606.4C372.6 603.4 372.9 600.4 373.3 597.4C373.7 594.4 374.0 591.4 374.4 588.4C374.8 585.4 375.1 582.5 375.5 579.5C375.9 576.5 376.2 573.5 376.6 570.5C377.0 567.5 377.3 564.5 377.7 561.5C378.0 558.5 378.4 555.6 378.8 552.6C379.1 549.6 379.5 546.6 379.8 543.6C380.2 540.6 380.5 537.6 380.9 534.6C381.2 531.6 381.5 528.6 381.9 525.6C382.2 522.7 382.6 519.7 382.9 516.7C383.3 513.7 383.6 510.7 384.0 507.7C384.3 504.7 384.7 501.7 385.0 498.7C385.4 495.7 385.8 492.7 386.1 489.8C386.5 486.8 386.9 483.8 387.2 480.8C387.6 477.8 388.0 474.8 388.4 471.8C388.8 468.8 389.2 465.9 389.6 462.9C389.9 459.9 390.3 456.9 390.8 453.9C391.2 450.9 391.6 448.0 392.0 445.0C392.4 442.0 392.8 439.0 393.2 436.0C393.7 433.0 394.1 430.1 394.5 427.1C394.9 424.1 395.4 421.1 395.8 418.1C396.2 415.2 396.6 412.2 397.1 409.2C397.5 406.2 397.9 403.2 398.3 400.3C398.8 397.3 399.2 394.3 399.6 391.3C400.0 388.3 400.4 385.3 400.8 382.4C401.2 379.4 401.6 376.4 402.0 373.4C402.4 370.4 402.8 367.4 403.2 364.4C403.5 361.5 403.9 358.5 404.3 355.5C404.6 352.5 405.0 349.5 405.3 346.5C405.7 343.5 406.0 340.5 406.4 337.5C406.7 334.5 407.0 331.5 407.3 328.6C407.7 325.6 408.0 322.6 408.3 319.6C408.6 316.6 408.8 313.6 409.1 310.6C409.4 307.6 409.6 304.6 409.9 301.6C410.1 298.6 410.3 295.6 410.5 292.6C410.7 289.6 410.8 286.5 410.9 283.5C411.0 280.5 411.1 277.5 411.1 274.5C411.1 271.5 411.1 268.5 411.0 265.5C410.8 262.5 410.6 259.5 410.3 256.5C410.0 253.5 409.6 250.5 409.0 247.5C408.4 244.6 407.6 241.7 406.7 238.8C405.7 236.0 404.6 233.1 403.2 230.5C401.8 227.8 400.2 225.2 398.4 222.8C396.6 220.5 394.5 218.2 392.3 216.2C390.1 214.1 387.8 212.2 385.3 210.5C382.8 208.8 380.2 207.3 377.6 205.8C374.9 204.4 372.2 203.2 369.4 202.0C366.6 200.8 363.8 199.7 361.0 198.8C358.1 197.8 355.2 196.9 352.3 196.1C349.4 195.2 346.5 194.5 343.6 193.8C340.7 193.1 337.7 192.5 334.8 191.9C331.8 191.3 328.9 190.7 325.9 190.2C322.9 189.7 320.0 189.2 317.0 188.7C314.0 188.3 311.0 187.9 308.0 187.5C305.0 187.1 302.1 186.7 299.1 186.4C296.1 186.1 293.1 185.7 290.1 185.5C287.1 185.2 284.1 184.9 281.1 184.6C278.1 184.4 275.1 184.1 272.1 183.9C269.1 183.7 266.1 183.5 263.1 183.3C260.1 183.1 257.1 183.0 254.0 182.8C251.0 182.6 248.0 182.5 245.0 182.4C242.0 182.2 237.5 182.1 236.0 182.0" fill="none"/>
<path d="M1099.7 1192.5C1102.8 1192.5 1105.7 1192.4 1108.7 1192.3C1111.7 1192.2 1114.7 1192.1 1117.6 1191.9C1120.6 1191.8 1123.6 1191.5 1126.6 1191.3C1129.6 1191.0 1132.6 1190.7 1135.5 1190.4C1138.5 1190.0 1141.5 1189.7 1144.4 1189.2C1147.4 1188.8 1150.4 1188.3 1153.3 1187.8C1156.2 1187.2 1159.2 1186.6 1162.1 1186.0C1165.0 1185.3 1167.9 1184.6 1170.8 1183.9C1173.7 1183.1 1176.6 1182.3 1179.5 1181.4C1182.3 1180.5 1185.2 1179.5 1188.0 1178.5C1190.8 1177.4 1193.5 1176.3 1196.3 1175.0C1199.0 1173.8 1201.7 1172.5 1204.3 1171.1C1207.0 1169.7 1209.5 1168.2 1212.0 1166.5C1214.6 1164.9 1217.0 1163.1 1219.3 1161.3C1221.7 1159.4 1223.9 1157.4 1226.1 1155.4C1228.2 1153.3 1230.3 1151.1 1232.1 1148.7C1234.0 1146.4 1235.8 1144.0 1237.5 1141.5C1239.1 1139.0 1240.6 1136.4 1241.9 1133.7C1243.3 1131.1 1244.5 1128.3 1245.6 1125.5C1246.7 1122.8 1247.7 1119.9 1248.6 1117.1C1249.5 1114.2 1250.2 1111.3 1250.9 1108.4C1251.6 1105.5 1252.2 1102.5 1252.7 1099.6C1253.2 1096.6 1253.6 1093.7 1253.9 1090.7C1254.3 1087.7 1254.6 1084.7 1254.8 1081.8C1255.0 1078.8 1255.2 1075.8 1255.3 1072.8C1255.4 1069.8 1255.5 1066.8 1255.5 1063.8C1255.5 1060.8 1255.5 1057.8 1255.4 1054.8C1255.3 1051.8 1255.2 1048.8 1255.1 1045.9C1255.0 1042.9 1254.8 1039.9 1254.6 1036.9C1254.4 1033.9 1254.2 1030.9 1253.9 1027.9C1253.7 1024.9 1253.4 1022.0 1253.1 1019.0C1252.8 1016.0 1252.5 1013.0 1252.1 1010.1C1251.8 1007.1 1251.4 1004.1 1251.1 1001.1C1250.7 998.2 1250.3 995.2 1249.9 992.2C1249.6 989.3 1249.2 986.3 1248.8 983.3C1248.4 980.4 1248.0 977.4 1247.5 974.4C1247.1 971.5 1246.7 968.5 1246.3 965.5C1245.9 962.6 1245.5 959.6 1245.1 956.6C1244.7 953.7 1244.3 950.7 1243.9 947.7C1243.5 944.8 1243.1 941.8 1242.7 938.8C1242.3 935.9 1241.9 932.9 1241.6 929.9C1241.2 927.0 1240.8 924.0 1240.5 921.0C1240.1 918.0 1239.8 915.1 1239.4 912.1C1239.1 909.1 1238.7 906.1 1238.4 903.2C1238.0 900.2 1237.7 897.2 1237.4 894.2C1237.1 891.3 1236.7 888.3 1236.4 885.3C1236.1 882.3 1235.8 879.4 1235.5 876.4C1235.2 873.4 1234.9 870.4 1234.5 867.4C1234.2 864.5 1233.9 861.5 1233.6 858.5C1233.3 855.5 1233.0 852.6 1232.7 849.6C1232.4 846.6 1232.1 843.6 1231.8 840.7C1231.5 837.7 1231.1 834.7 1230.8 831.7C1230.5 828.7 1230.2 825.8 1229.9 822.8C1229.6 819.8 1229.2 816.8 1228.9 813.9C1228.6 810.9 1228.3 807.9 1227.9 804.9C1227.6 802.0 1227.3 799.0 1227.0 796.0C1226.6 793.0 1226.3 790.1 1225.9 787.1C1225.6 784.1 1225.3 781.1 1224.9 778.2C1224.6 775.2 1224.2 772.2 1223.9 769.2C1223.5 766.3 1223.2 763.3 1222.8 760.3C1222.5 757.3 1222.1 754.4 1221.7 751.4C1221.4 748.4 1221.0 745.5 1220.6 742.5C1220.3 739.5 1219.9 736.6 1219.5 733.6C1219.1 730.6 1218.7 727.6 1218.3 724.7C1217.9 721.7 1217.5 718.7 1217.1 715.8C1216.7 712.8 1216.3 709.8 1215.9 706.9C1215.5 703.9 1215.0 701.0 1214.6 698.0C1214.2 695.0 1213.7 692.1 1213.3 689.1C1212.8 686.2 1212.3 683.2 1211.9 680.2C1211.4 677.3 1210.9 674.3 1210.4 671.4C1209.9 668.4 1209.4 665.5 1208.9 662.5C1208.4 659.6 1207.9 656.6 1207.3 653.7C1206.8 650.7 1206.3 647.8 1205.7 644.9C1205.1 641.9 1204.6 639.0 1204.0 636.0C1203.4 633.1 1202.8 630.2 1202.2 627.2C1201.6 624.3 1200.9 621.4 1200.3 618.5C1199.6 615.5 1199.0 612.6 1198.3 609.7C1197.6 606.8 1196.9 603.9 1196.2 601.0C1195.5 598.1 1194.8 595.2 1194.0 592.3C1193.3 589.4 1192.5 586.5 1191.7 583.6C1190.9 580.7 1190.1 577.8 1189.2 574.9C1188.4 572.1 1187.5 569.2 1186.6 566.4C1185.7 563.5 1184.8 560.7 1183.8 557.8C1182.8 555.0 1181.8 552.2 1180.8 549.4C1179.7 546.6 1178.7 543.8 1177.5 541.0C1176.4 538.2 1175.2 535.5 1174.0 532.7C1172.8 530.0 1171.5 527.3 1170.2 524.6C1168.9 521.9 1167.5 519.3 1166.0 516.7C1164.6 514.0 1163.1 511.4 1161.5 508.9C1159.9 506.4 1158.2 503.9 1156.4 501.5C1154.7 499.1 1152.8 496.7 1150.8 494.4C1148.9 492.2 1146.8 490.0 1144.6 488.0C1142.4 485.9 1140.1 484.0 1137.7 482.3C1135.3 480.6 1132.7 479.0 1130.0 477.7C1127.3 476.4 1124.5 475.3 1121.6 474.6C1118.7 473.8 1115.7 473.4 1112.7 473.2C1109.8 473.1 1106.7 473.3 1103.8 473.8C1100.8 474.3 1097.9 475.1 1095.1 476.1C1092.3 477.2 1089.6 478.5 1087.0 479.9C1084.3 481.3 1081.8 483.0 1079.4 484.7C1077.0 486.5 1074.7 488.4 1072.4 490.4C1070.2 492.4 1068.1 494.5 1066.0 496.7C1064.0 498.9 1062.0 501.1 1060.2 503.5C1058.3 505.8 1056.5 508.2 1054.8 510.7C1053.0 513.1 1051.4 515.6 1049.8 518.1C1048.2 520.7 1046.7 523.3 1045.2 525.9C1043.7 528.5 1042.3 531.1 1041.0 533.8C1039.6 536.4 1038.3 539.1 1037.0 541.8C1035.7 544.5 1034.5 547.2 1033.2 550.0C1032.0 552.7 1030.8 555.5 1029.7 558.2C1028.5 561.0 1027.4 563.8 1026.3 566.6C1025.2 569.3 1024.2 572.1 1023.1 574.9C1022.0 577.7 1021.0 580.6 1020.0 583.4C1019.0 586.2 1018.0 589.0 1017.0 591.8C1016.1 594.7 1015.1 597.5 1014.2 600.4C1013.2 603.2 1012.3 606.0 1011.4 608.9C1010.5 611.8 1009.6 614.6 1008.8 617.5C1007.9 620.4 1007.1 623.2 1006.2 626.1C1005.4 629.0 1004.6 631.9 1003.8 634.8C1003.0 637.6 1002.3 640.5 1001.5 643.4C1000.8 646.3 1000.1 649.2 999.4 652.2C998.7 655.1 998.0 658.0 997.4 660.9C996.7 663.8 996.1 666.8 995.4 669.7C994.8 672.6 994.2 675.5 993.6 678.5C993.1 681.4 992.5 684.4 991.9 687.3C991.4 690.2 990.9 693.2 990.3 696.1C989.8 699.1 989.3 702.0 988.8 705.0C988.3 707.9 987.8 710.9 987.3 713.8C986.8 716.8 986.3 719.7 985.8 722.7C985.3 725.6 984.9 728.6 984.4 731.6C983.9 734.5 983.4 737.5 982.9 740.4C982.5 743.4 982.0 746.3 981.5 749.3C981.0 752.2 980.6 755.2 980.1 758.2C979.6 761.1 979.1 764.1 978.7 767.0C978.2 770.0 977.7 772.9 977.2 775.9C976.8 778.9 976.3 781.8 975.8 784.8C975.4 787.7 974.9 790.7 974.4 793.6C974.0 796.6 973.5 799.6 973.0 802.5C972.6 805.5 972.1 808.4 971.7 811.4C971.3 814.3 970.8 817.3 970.4 820.3C970.0 823.2 969.5 826.2 969.1 829.2C968.7 832.1 968.3 835.1 967.9 838.1C967.5 841.0 967.1 844.0 966.7 847.0C966.3 849.9 966.0 852.9 965.6 855.9C965.2 858.8 964.8 861.8 964.5 864.8C964.1 867.8 963.7 870.7 963.4 873.7C963.0 876.7 962.7 879.6 962.3 882.6C961.9 885.6 961.6 888.6 961.2 891.5C960.9 894.5 960.5 897.5 960.1 900.4C959.8 903.4 959.4 906.4 959.0 909.4C958.7 912.3 958.3 915.3 957.9 918.3C957.5 921.2 957.1 924.2 956.7 927.2C956.3 930.1 955.9 933.1 955.5 936.1C955.2 939.0 954.8 942.0 954.4 945.0C954.0 947.9 953.6 950.9 953.2 953.9C952.8 956.8 952.4 959.8 952.0 962.8C951.6 965.8 951.2 968.7 950.9 971.7C950.5 974.7 950.2 977.6 949.8 980.6C949.5 983.6 949.2 986.6 948.9 989.5C948.6 992.5 948.3 995.5 948.1 998.5C947.8 1001.5 947.6 1004.5 947.4 1007.4C947.2 1010.4 947.0 1013.4 946.9 1016.4C946.7 1019.4 946.6 1022.4 946.5 1025.4C946.4 1028.4 946.4 1031.4 946.3 1034.4C946.3 1037.4 946.3 1040.4 946.4 1043.3C946.4 1046.3 946.4 1049.3 946.5 1052.3C946.6 1055.3 946.8 1058.3 946.9 1061.3C947.1 1064.3 947.2 1067.3 947.5 1070.3C947.7 1073.2 947.9 1076.2 948.2 1079.2C948.5 1082.2 948.8 1085.2 949.2 1088.1C949.6 1091.1 949.9 1094.1 950.4 1097.0C950.9 1100.0 951.4 1102.9 951.9 1105.9C952.5 1108.8 953.2 1111.8 953.9 1114.7C954.6 1117.6 955.4 1120.4 956.3 1123.3C957.3 1126.1 958.3 1129.0 959.4 1131.7C960.6 1134.5 961.8 1137.2 963.2 1139.8C964.7 1142.5 966.2 1145.1 967.9 1147.5C969.6 1150.0 971.5 1152.3 973.5 1154.5C975.5 1156.8 977.6 1158.9 979.8 1160.9C982.1 1162.9 984.5 1164.7 986.9 1166.4C989.3 1168.2 991.9 1169.8 994.5 1171.3C997.1 1172.7 999.7 1174.1 1002.4 1175.4C1005.2 1176.7 1007.9 1177.8 1010.7 1178.9C1013.5 1180.0 1016.3 1180.9 1019.2 1181.9C1022.0 1182.8 1024.9 1183.6 1027.8 1184.4C1030.7 1185.1 1033.6 1185.8 1036.5 1186.5C1039.5 1187.1 1042.4 1187.7 1045.4 1188.2C1048.3 1188.7 1051.3 1189.2 1054.2 1189.6C1057.2 1190.0 1060.2 1190.4 1063.1 1190.7C1066.1 1191.0 1069.1 1191.3 1072.1 1191.5C1075.1 1191.7 1078.1 1191.9 1081.0 1192.1C1084.0 1192.2 1086.9 1192.3 1090.0 1192.4C1093.1 1192.5 1096.6 1192.5 1099.7 1192.5Z" fill="#0080FF"/>
<path d="M236.0 814.6C237.5 814.9 241.8 816.3 244.7 816.5C247.7 816.8 250.8 816.7 253.7 816.3C256.6 815.8 259.5 814.9 262.2 813.7C265.0 812.5 267.6 811.0 270.0 809.2C272.4 807.5 274.7 805.5 276.8 803.4C278.9 801.3 280.9 799.0 282.7 796.7C284.6 794.3 286.3 791.9 287.9 789.4C289.5 786.8 291.0 784.2 292.4 781.6C293.8 779.0 295.2 776.3 296.4 773.6C297.7 770.9 298.9 768.2 300.0 765.4C301.2 762.6 302.3 759.9 303.3 757.0C304.3 754.2 305.3 751.4 306.2 748.6C307.1 745.7 308.0 742.9 308.9 740.0C309.7 737.1 310.5 734.3 311.3 731.4C312.1 728.5 312.8 725.6 313.5 722.7C314.2 719.8 314.9 716.9 315.5 713.9C316.2 711.0 316.8 708.1 317.4 705.2C317.9 702.2 318.5 699.3 319.0 696.4C319.6 693.4 320.1 690.5 320.6 687.5C321.1 684.6 321.6 681.6 322.0 678.7C322.5 675.7 322.9 672.8 323.4 669.8C323.8 666.9 324.2 663.9 324.6 660.9C325.0 658.0 325.4 655.0 325.7 652.0C326.1 649.1 326.5 646.1 326.8 643.1C327.1 640.2 327.5 637.2 327.8 634.2C328.1 631.3 328.4 628.3 328.7 625.3C329.0 622.3 329.3 619.4 329.6 616.4C329.8 613.4 330.1 610.4 330.3 607.4C330.6 604.5 330.8 601.5 331.0 598.5C331.2 595.5 331.4 592.5 331.6 589.6C331.8 586.6 331.9 583.6 332.1 580.6C332.2 577.6 332.3 574.6 332.4 571.6C332.5 568.7 332.6 565.7 332.7 562.7C332.7 559.7 332.8 556.7 332.8 553.7C332.8 550.7 332.8 547.7 332.7 544.8C332.7 541.8 332.7 538.8 332.6 535.8C332.5 532.8 332.4 529.8 332.3 526.8C332.1 523.8 332.0 520.9 331.8 517.9C331.6 514.9 331.4 511.9 331.2 508.9C331.0 505.9 330.7 503.0 330.4 500.0C330.2 497.0 329.9 494.0 329.5 491.1C329.2 488.1 328.9 485.1 328.5 482.2C328.1 479.2 327.7 476.2 327.3 473.3C326.8 470.3 326.4 467.4 325.9 464.4C325.4 461.5 324.9 458.5 324.4 455.6C323.8 452.6 323.3 449.7 322.6 446.8C322.0 443.9 321.4 440.9 320.7 438.0C320.0 435.1 319.3 432.2 318.5 429.3C317.7 426.5 316.9 423.6 316.0 420.7C315.1 417.9 314.1 415.1 313.1 412.2C312.1 409.4 311.0 406.7 309.8 403.9C308.6 401.2 307.4 398.4 306.0 395.8C304.7 393.1 303.2 390.5 301.7 387.9C300.1 385.4 298.5 382.9 296.7 380.5C295.0 378.1 293.1 375.7 291.1 373.5C289.1 371.3 287.0 369.1 284.8 367.1C282.6 365.1 280.3 363.2 277.9 361.5C275.4 359.7 272.9 358.1 270.3 356.7C267.7 355.2 265.0 353.9 262.2 352.8C259.4 351.7 256.6 350.7 253.7 349.9C250.8 349.2 247.9 348.6 244.9 348.1C242.0 347.7 237.5 347.5 236.0 347.4Z" fill="#0000FF" stroke="none"/>
<path d="M236.0 814.6C237.5 814.9 241.8 816.3 244.7 816.5C247.7 816.8 250.8 816.7 253.7 816.3C256.6 815.8 259.5 814.9 262.2 813.7C265.0 812.5 267.6 811.0 270.0 809.2C272.4 807.5 274.7 805.5 276.8 803.4C278.9 801.3 280.9 799.0 282.7 796.7C284.6 794.3 286.3 791.9 287.9 789.4C289.5 786.8 291.0 784.2 292.4 781.6C293.8 779.0 295.2 776.3 296.4 773.6C297.7 770.9 298.9 768.2 300.0 765.4C301.2 762.6 302.3 759.9 303.3 757.0C304.3 754.2 305.3 751.4 306.2 748.6C307.1 745.7 308.0 742.9 308.9 740.0C309.7 737.1 310.5 734.3 311.3 731.4C312.1 728.5 312.8 725.6 313.5 722.7C314.2 719.8 314.9 716.9 315.5 713.9C316.2 711.0 316.8 708.1 317.4 705.2C317.9 702.2 318.5 699.3 319.0 696.4C319.6 693.4 320.1 690.5 320.6 687.5C321.1 684.6 321.6 681.6 322.0 678.7C322.5 675.7 322.9 672.8 323.4 669.8C323.8 666.9 324.2 663.9 324.6 660.9C325.0 658.0 325.4 655.0 325.7 652.0C326.1 649.1 326.5 646.1 326.8 643.1C327.1 640.2 327.5 637.2 327.8 634.2C328.1 631.3 328.4 628.3 328.7 625.3C329.0 622.3 329.3 619.4 329.6 616.4C329.8 613.4 330.1 610.4 330.3 607.4C330.6 604.5 330.8 601.5 331.0 598.5C331.2 595.5 331.4 592.5 331.6 589.6C331.8 586.6 331.9 583.6 332.1 580.6C332.2 577.6 332.3 574.6 332.4 571.6C332.5 568.7 332.6 565.7 332.7 562.7C332.7 559.7 332.8 556.7 332.8 553.7C332.8 550.7 332.8 547.7 332.7 544.8C332.7 541.8 332.7 538.8 332.6 535.8C332.5 532.8 332.4 529.8 332.3 526.8C332.1 523.8 332.0 520.9 331.8 517.9C331.6 514.9 331.4 511.9 331.2 508.9C331.0 505.9 330.7 503.0 330.4 500.0C330.2 497.0 329.9 494.0 329.5 491.1C329.2 488.1 328.9 485.1 328.5 482.2C328.1 479.2 327.7 476.2 327.3 473.3C326.8 470.3 326.4 467.4 325.9 464.4C325.4 461.5 324.9 458.5 324.4 455.6C323.8 452.6 323.3 449.7 322.6 446.8C322.0 443.9 321.4 440.9 320.7 438.0C320.0 435.1 319.3 432.2 318.5 429.3C317.7 426.5 316.9 423.6 316.0 420.7C315.1 417.9 314.1 415.1 313.1 412.2C312.1 409.4 311.0 406.7 309.8 403.9C308.6 401.2 307.4 398.4 306.0 395.8C304.7 393.1 303.2 390.5 301.7 387.9C300.1 385.4 298.5 382.9 296.7 380.5C295.0 378.1 293.1 375.7 291.1 373.5C289.1 371.3 287.0 369.1 284.8 367.1C282.6 365.1 280.3 363.2 277.9 361.5C275.4 359.7 272.9 358.1 270.3 356.7C267.7 355.2 265.0 353.9 262.2 352.8C259.4 351.7 256.6 350.7 253.7 349.9C250.8 349.2 247.9 348.6 244.9 348.1C242.0 347.7 237.5 347.5 236.0 347.4" fill="none"/>
<path d="M1974.0 359.4C1972.7 358.6 1968.8 356.2 1966.1 354.9C1963.4 353.6 1960.6 352.4 1957.8 351.4C1954.9 350.5 1952.0 349.6 1949.1 349.0C1946.1 348.4 1943.1 347.9 1940.1 347.7C1937.1 347.4 1934.1 347.3 1931.1 347.4C1928.1 347.6 1925.0 347.9 1922.1 348.4C1919.1 348.9 1916.1 349.5 1913.3 350.4C1910.4 351.3 1907.5 352.4 1904.8 353.6C1902.1 354.9 1899.4 356.4 1896.9 358.0C1894.3 359.6 1891.9 361.4 1889.6 363.3C1887.3 365.3 1885.1 367.4 1883.1 369.6C1881.1 371.8 1879.2 374.2 1877.4 376.7C1875.6 379.1 1874.0 381.7 1872.6 384.3C1871.1 386.9 1869.7 389.6 1868.5 392.4C1867.3 395.1 1866.2 397.9 1865.1 400.8C1864.1 403.6 1863.2 406.5 1862.4 409.4C1861.6 412.3 1860.9 415.3 1860.3 418.2C1859.6 421.2 1859.1 424.1 1858.5 427.1C1858.0 430.1 1857.6 433.1 1857.2 436.0C1856.8 439.0 1856.5 442.0 1856.2 445.0C1855.9 448.0 1855.7 451.1 1855.5 454.1C1855.2 457.1 1855.1 460.1 1854.9 463.1C1854.7 466.1 1854.6 469.1 1854.5 472.1C1854.4 475.2 1854.3 478.2 1854.3 481.2C1854.2 484.2 1854.2 487.2 1854.1 490.2C1854.1 493.3 1854.1 496.3 1854.1 499.3C1854.1 502.3 1854.1 505.3 1854.1 508.3C1854.2 511.4 1854.2 514.4 1854.3 517.4C1854.3 520.4 1854.4 523.4 1854.4 526.4C1854.5 529.5 1854.6 532.5 1854.7 535.5C1854.8 538.5 1854.9 541.5 1855.0 544.5C1855.2 547.6 1855.3 550.6 1855.4 553.6C1855.6 556.6 1855.8 559.6 1855.9 562.6C1856.1 565.6 1856.3 568.6 1856.5 571.7C1856.7 574.7 1856.9 577.7 1857.2 580.7C1857.4 583.7 1857.6 586.7 1857.9 589.7C1858.1 592.7 1858.4 595.7 1858.7 598.7C1859.0 601.7 1859.3 604.7 1859.6 607.7C1859.9 610.7 1860.2 613.7 1860.5 616.7C1860.8 619.7 1861.2 622.7 1861.5 625.7C1861.8 628.7 1862.2 631.7 1862.5 634.7C1862.9 637.7 1863.3 640.7 1863.6 643.7C1864.0 646.7 1864.4 649.7 1864.8 652.7C1865.2 655.7 1865.6 658.7 1866.0 661.7C1866.4 664.6 1866.8 667.6 1867.2 670.6C1867.6 673.6 1868.1 676.6 1868.5 679.6C1869.0 682.6 1869.4 685.5 1869.9 688.5C1870.4 691.5 1870.9 694.5 1871.4 697.4C1872.0 700.4 1872.5 703.4 1873.1 706.3C1873.6 709.3 1874.2 712.3 1874.9 715.2C1875.5 718.2 1876.2 721.1 1876.9 724.0C1877.6 727.0 1878.3 729.9 1879.1 732.8C1879.9 735.7 1880.7 738.6 1881.6 741.5C1882.5 744.4 1883.5 747.3 1884.5 750.1C1885.5 753.0 1886.5 755.8 1887.6 758.6C1888.8 761.4 1890.0 764.2 1891.2 766.9C1892.5 769.6 1893.8 772.3 1895.3 775.0C1896.7 777.6 1898.2 780.3 1899.8 782.8C1901.4 785.4 1903.1 787.9 1904.9 790.3C1906.7 792.7 1908.6 795.1 1910.7 797.3C1912.7 799.5 1914.8 801.7 1917.1 803.7C1919.4 805.6 1921.7 807.5 1924.3 809.2C1926.8 810.8 1929.4 812.3 1932.2 813.5C1935.0 814.6 1937.9 815.6 1940.9 816.1C1943.8 816.6 1946.9 816.8 1949.9 816.6C1952.8 816.4 1955.9 815.7 1958.7 814.8C1961.5 813.8 1964.3 812.4 1966.8 810.8C1969.4 809.3 1972.8 806.3 1974.0 805.3Z" fill="#0000FF" stroke="none"/>
<path d="M1974.0 359.4C1972.7 358.6 1968.8 356.2 1966.1 354.9C1963.4 353.6 1960.6 352.4 1957.8 351.4C1954.9 350.5 1952.0 349.6 1949.1 349.0C1946.1 348.4 1943.1 347.9 1940.1 347.7C1937.1 347.4 1934.1 347.3 1931.1 347.4C1928.1 347.6 1925.0 347.9 1922.1 348.4C1919.1 348.9 1916.1 349.5 1913.3 350.4C1910.4 351.3 1907.5 352.4 1904.8 353.6C1902.1 354.9 1899.4 356.4 1896.9 358.0C1894.3 359.6 1891.9 361.4 1889.6 363.3C1887.3 365.3 1885.1 367.4 1883.1 369.6C1881.1 371.8 1879.2 374.2 1877.4 376.7C1875.6 379.1 1874.0 381.7 1872.6 384.3C1871.1 386.9 1869.7 389.6 1868.5 392.4C1867.3 395.1 1866.2 397.9 1865.1 400.8C1864.1 403.6 1863.2 406.5 1862.4 409.4C1861.6 412.3 1860.9 415.3 1860.3 418.2C1859.6 421.2 1859.1 424.1 1858.5 427.1C1858.0 430.1 1857.6 433.1 1857.2 436.0C1856.8 439.0 1856.5 442.0 1856.2 445.0C1855.9 448.0 1855.7 451.1 1855.5 454.1C1855.2 457.1 1855.1 460.1 1854.9 463.1C1854.7 466.1 1854.6 469.1 1854.5 472.1C1854.4 475.2 1854.3 478.2 1854.3 481.2C1854.2 484.2 1854.2 487.2 1854.1 490.2C1854.1 493.3 1854.1 496.3 1854.1 499.3C1854.1 502.3 1854.1 505.3 1854.1 508.3C1854.2 511.4 1854.2 514.4 1854.3 517.4C1854.3 520.4 1854.4 523.4 1854.4 526.4C1854.5 529.5 1854.6 532.5 1854.7 535.5C1854.8 538.5 1854.9 541.5 1855.0 544.5C1855.2 547.6 1855.3 550.6 1855.4 553.6C1855.6 556.6 1855.8 559.6 1855.9 562.6C1856.1 565.6 1856.3 568.6 1856.5 571.7C1856.7 574.7 1856.9 577.7 1857.2 580.7C1857.4 583.7 1857.6 586.7 1857.9 589.7C1858.1 592.7 1858.4 595.7 1858.7 598.7C1859.0 601.7 1859.3 604.7 1859.6 607.7C1859.9 610.7 1860.2 613.7 1860.5 616.7C1860.8 619.7 1861.2 622.7 1861.5 625.7C1861.8 628.7 1862.2 631.7 1862.5 634.7C1862.9 637.7 1863.3 640.7 1863.6 643.7C1864.0 646.7 1864.4 649.7 1864.8 652.7C1865.2 655.7 1865.6 658.7 1866.0 661.7C1866.4 664.6 1866.8 667.6 1867.2 670.6C1867.6 673.6 1868.1 676.6 1868.5 679.6C1869.0 682.6 1869.4 685.5 1869.9 688.5C1870.4 691.5 1870.9 694.5 1871.4 697.4C1872.0 700.4 1872.5 703.4 1873.1 706.3C1873.6 709.3 1874.2 712.3 1874.9 715.2C1875.5 718.2 1876.2 721.1 1876.9 724.0C1877.6 727.0 1878.3 729.9 1879.1 732.8C1879.9 735.7 1880.7 738.6 1881.6 741.5C1882.5 744.4 1883.5 747.3 1884.5 750.1C1885.5 753.0 1886.5 755.8 1887.6 758.6C1888.8 761.4 1890.0 764.2 1891.2 766.9C1892.5 769.6 1893.8 772.3 1895.3 775.0C1896.7 777.6 1898.2 780.3 1899.8 782.8C1901.4 785.4 1903.1 787.9 1904.9 790.3C1906.7 792.7 1908.6 795.1 1910.7 797.3C1912.7 799.5 1914.8 801.7 1917.1 803.7C1919.4 805.6 1921.7 807.5 1924.3 809.2C1926.8 810.8 1929.4 812.3 1932.2 813.5C1935.0 814.6 1937.9 815.6 1940.9 816.1C1943.8 816.6 1946.9 816.8 1949.9 816.6C1952.8 816.4 1955.9 815.7 1958.7 814.8C1961.5 813.8 1964.3 812.4 1966.8 810.8C1969.4 809.3 1972.8 806.3 1974.0 805.3" fill="none"/>
<path d="M1104.6 1066.5C1107.7 1066.3 1110.6 1066.0 1113.5 1065.4C1116.5 1064.9 1119.4 1064.2 1122.3 1063.3C1125.2 1062.4 1128.0 1061.4 1130.7 1060.2C1133.5 1058.9 1136.1 1057.5 1138.7 1056.0C1141.3 1054.5 1143.8 1052.7 1146.1 1050.9C1148.5 1049.1 1150.8 1047.1 1152.9 1045.0C1155.1 1042.9 1157.1 1040.7 1159.0 1038.4C1160.9 1036.1 1162.7 1033.6 1164.4 1031.2C1166.1 1028.7 1167.6 1026.1 1169.0 1023.4C1170.5 1020.8 1171.8 1018.1 1173.0 1015.3C1174.2 1012.6 1175.3 1009.8 1176.3 1007.0C1177.3 1004.1 1178.2 1001.3 1179.0 998.4C1179.8 995.5 1180.5 992.6 1181.2 989.6C1181.9 986.7 1182.5 983.8 1183.0 980.8C1183.5 977.9 1184.0 974.9 1184.4 971.9C1184.9 968.9 1185.2 966.0 1185.6 963.0C1185.9 960.0 1186.2 957.0 1186.4 954.0C1186.7 951.0 1186.9 948.0 1187.1 945.0C1187.3 942.0 1187.5 939.0 1187.7 936.0C1187.8 933.0 1187.9 930.0 1188.1 927.0C1188.2 924.0 1188.3 921.0 1188.3 918.0C1188.4 915.0 1188.5 912.0 1188.6 909.0C1188.6 906.0 1188.7 903.0 1188.7 900.0C1188.7 897.0 1188.7 894.0 1188.8 891.0C1188.8 888.0 1188.8 885.0 1188.7 882.0C1188.7 879.0 1188.7 876.0 1188.7 873.0C1188.6 870.0 1188.6 867.0 1188.5 864.0C1188.5 861.0 1188.4 858.0 1188.3 855.0C1188.3 852.0 1188.2 849.0 1188.1 846.0C1188.0 843.0 1187.8 840.0 1187.7 837.0C1187.6 834.0 1187.4 831.0 1187.3 828.0C1187.1 825.0 1186.9 822.0 1186.8 819.0C1186.6 816.0 1186.4 813.0 1186.2 810.0C1185.9 807.0 1185.7 804.0 1185.5 801.0C1185.2 798.0 1185.0 795.0 1184.7 792.0C1184.4 789.0 1184.1 786.1 1183.8 783.1C1183.5 780.1 1183.2 777.1 1182.8 774.1C1182.5 771.1 1182.1 768.1 1181.8 765.2C1181.4 762.2 1181.0 759.2 1180.6 756.2C1180.2 753.3 1179.7 750.3 1179.3 747.3C1178.8 744.4 1178.3 741.4 1177.8 738.4C1177.3 735.5 1176.8 732.5 1176.3 729.6C1175.7 726.6 1175.2 723.7 1174.6 720.7C1174.0 717.8 1173.3 714.8 1172.7 711.9C1172.0 709.0 1171.4 706.0 1170.6 703.1C1169.9 700.2 1169.2 697.3 1168.4 694.4C1167.6 691.5 1166.8 688.6 1166.0 685.7C1165.1 682.8 1164.2 680.0 1163.3 677.1C1162.4 674.3 1161.4 671.4 1160.4 668.6C1159.3 665.8 1158.3 663.0 1157.2 660.2C1156.0 657.4 1154.9 654.6 1153.6 651.9C1152.4 649.2 1151.1 646.4 1149.7 643.8C1148.3 641.1 1146.9 638.5 1145.4 635.9C1143.8 633.3 1142.2 630.8 1140.5 628.3C1138.7 625.9 1136.9 623.5 1134.9 621.3C1132.9 619.0 1130.8 616.8 1128.5 614.9C1126.2 613.0 1123.8 611.2 1121.2 609.8C1118.5 608.3 1115.7 607.1 1112.8 606.4C1109.9 605.7 1106.8 605.4 1103.9 605.6C1100.9 605.8 1097.9 606.5 1095.1 607.5C1092.3 608.4 1089.6 609.9 1087.0 611.4C1084.5 613.0 1082.1 614.9 1079.8 616.9C1077.6 618.8 1075.5 621.0 1073.4 623.2C1071.4 625.4 1069.5 627.7 1067.7 630.1C1065.9 632.5 1064.2 635.0 1062.5 637.5C1060.9 640.0 1059.3 642.6 1057.8 645.2C1056.3 647.8 1054.9 650.5 1053.6 653.1C1052.2 655.8 1050.9 658.5 1049.7 661.2C1048.4 664.0 1047.2 666.7 1046.1 669.5C1045.0 672.3 1043.9 675.1 1042.8 677.9C1041.8 680.7 1040.8 683.6 1039.8 686.4C1038.9 689.3 1038.0 692.1 1037.1 695.0C1036.2 697.9 1035.4 700.7 1034.6 703.6C1033.8 706.5 1033.0 709.4 1032.2 712.3C1031.5 715.2 1030.8 718.2 1030.1 721.1C1029.4 724.0 1028.7 726.9 1028.1 729.9C1027.4 732.8 1026.8 735.7 1026.2 738.7C1025.6 741.6 1025.0 744.6 1024.4 747.5C1023.8 750.4 1023.2 753.4 1022.7 756.3C1022.1 759.3 1021.6 762.3 1021.1 765.2C1020.5 768.2 1020.0 771.1 1019.5 774.1C1019.0 777.0 1018.5 780.0 1018.0 783.0C1017.6 785.9 1017.1 788.9 1016.6 791.9C1016.2 794.8 1015.7 797.8 1015.3 800.8C1014.9 803.8 1014.5 806.7 1014.1 809.7C1013.7 812.7 1013.3 815.7 1013.0 818.6C1012.6 821.6 1012.3 824.6 1012.0 827.6C1011.7 830.6 1011.4 833.6 1011.1 836.6C1010.9 839.6 1010.6 842.6 1010.4 845.5C1010.2 848.5 1010.0 851.5 1009.8 854.5C1009.6 857.5 1009.4 860.5 1009.3 863.5C1009.2 866.5 1009.1 869.5 1009.0 872.5C1008.9 875.5 1008.8 878.5 1008.8 881.5C1008.7 884.5 1008.7 887.5 1008.7 890.6C1008.7 893.6 1008.7 896.6 1008.8 899.6C1008.8 902.6 1008.8 905.6 1008.9 908.6C1009.0 911.6 1009.1 914.6 1009.2 917.6C1009.3 920.6 1009.5 923.6 1009.6 926.6C1009.8 929.6 1010.0 932.6 1010.2 935.6C1010.4 938.6 1010.6 941.6 1010.9 944.5C1011.1 947.5 1011.4 950.5 1011.8 953.5C1012.1 956.5 1012.5 959.5 1012.9 962.4C1013.3 965.4 1013.7 968.4 1014.3 971.4C1014.8 974.3 1015.3 977.3 1015.9 980.2C1016.6 983.1 1017.2 986.1 1018.0 989.0C1018.7 991.9 1019.5 994.8 1020.4 997.6C1021.3 1000.5 1022.3 1003.3 1023.4 1006.1C1024.5 1009.0 1025.6 1011.7 1026.9 1014.5C1028.1 1017.2 1029.5 1019.9 1030.9 1022.5C1032.4 1025.1 1034.0 1027.7 1035.6 1030.2C1037.3 1032.7 1039.1 1035.1 1041.0 1037.4C1042.9 1039.7 1044.9 1042.0 1047.0 1044.1C1049.2 1046.2 1051.4 1048.2 1053.8 1050.1C1056.1 1052.0 1058.6 1053.7 1061.1 1055.3C1063.6 1056.9 1066.3 1058.3 1069.0 1059.6C1071.7 1060.9 1074.5 1062.0 1077.4 1062.9C1080.2 1063.9 1083.1 1064.6 1086.1 1065.2C1089.0 1065.8 1091.9 1066.2 1095.0 1066.4C1098.1 1066.6 1101.5 1066.7 1104.6 1066.5Z" fill="#0000FF"/>
</g>
<g stroke="#000" stroke-width="2" fill="none">
<path d="M1953 181.2V197"/><path d="M1953 348.3V362.2"/>
</g>
<g fill="#000">
<rect x="250.9" y="141.9" width="6" height="1156.2"/>
<rect x="250.9" y="1292.1" width="1705.5" height="6"/>
</g>
<g stroke="#000" stroke-width="6" stroke-linecap="round">
<path d="M231.9 144.90H252"/>
<path d="M231.9 528.10H252"/>
<path d="M231.9 911.20H252"/>
<path d="M231.9 1295.10H252"/>
<path d="M242.6 336.50H252"/>
<path d="M242.6 719.70H252"/>
<path d="M242.6 1103.20H252"/>
<path d="M253.90 1296V1317"/>
<path d="M537.10 1296V1317"/>
<path d="M820.30 1296V1317"/>
<path d="M1103.50 1296V1317"/>
<path d="M1386.70 1296V1317"/>
<path d="M1669.90 1296V1317"/>
<path d="M1953.10 1296V1317"/>
<path d="M395.40 1296V1306"/>
<path d="M678.60 1296V1306"/>
<path d="M961.80 1296V1306"/>
<path d="M1245.00 1296V1306"/>
<path d="M1528.20 1296V1306"/>
<path d="M1811.40 1296V1306"/>
</g>
<rect x="1968" y="183.10" width="108" height="79.20" fill="#FF0000"/>
<rect x="1968" y="262.00" width="108" height="78.10" fill="#FF8000"/>
<rect x="1968" y="339.80" width="108" height="78.50" fill="#FFFF00"/>
<rect x="1968" y="418.00" width="108" height="78.10" fill="#00FF00"/>
<rect x="1968" y="495.80" width="108" height="78.40" fill="#00FF80"/>
<rect x="1968" y="573.90" width="108" height="78.30" fill="#00FFFF"/>
<rect x="1968" y="651.90" width="108" height="78.10" fill="#0080FF"/>
<rect x="1968" y="729.70" width="108" height="78.40" fill="#0000FF"/>
<rect x="1968" y="807.80" width="108" height="79.00" fill="#000080"/>
<g font-size="66.2">
<text x="2085.50" y="238.20" textLength="130.50" lengthAdjust="spacingAndGlyphs">1.03</text>
<text x="2085.50" y="316.15" textLength="130.50" lengthAdjust="spacingAndGlyphs">0.65</text>
<text x="2085.50" y="394.10" textLength="130.50" lengthAdjust="spacingAndGlyphs">0.28</text>
<text x="2085.50" y="472.05" textLength="153.10" lengthAdjust="spacingAndGlyphs">-0.10</text>
<text x="2085.50" y="550.00" textLength="153.10" lengthAdjust="spacingAndGlyphs">-0.48</text>
<text x="2085.50" y="627.95" textLength="153.10" lengthAdjust="spacingAndGlyphs">-0.85</text>
<text x="2085.50" y="705.90" textLength="153.10" lengthAdjust="spacingAndGlyphs">-1.23</text>
<text x="2085.50" y="783.85" textLength="153.10" lengthAdjust="spacingAndGlyphs">-1.60</text>
<text x="2085.50" y="861.80" textLength="153.10" lengthAdjust="spacingAndGlyphs">-1.98</text>
<text x="105.00" y="160.90" textLength="111.90" lengthAdjust="spacingAndGlyphs">180</text>
<text x="105.00" y="544.10" textLength="111.90" lengthAdjust="spacingAndGlyphs">120</text>
<text x="142.30" y="927.20" textLength="74.60" lengthAdjust="spacingAndGlyphs">60</text>
<text x="179.60" y="1311.10" textLength="37.30" lengthAdjust="spacingAndGlyphs">0</text>
<text x="186.65" y="1385.80" textLength="134.50" lengthAdjust="spacingAndGlyphs">-180</text>
<text x="469.85" y="1385.80" textLength="134.50" lengthAdjust="spacingAndGlyphs">-120</text>
<text x="771.70" y="1385.80" textLength="97.20" lengthAdjust="spacingAndGlyphs">-60</text>
<text x="1084.85" y="1385.80" textLength="37.30" lengthAdjust="spacingAndGlyphs">0</text>
<text x="1349.40" y="1385.80" textLength="74.60" lengthAdjust="spacingAndGlyphs">60</text>
<text x="1613.95" y="1385.80" textLength="111.90" lengthAdjust="spacingAndGlyphs">120</text>
<text x="1898.15" y="1385.80" textLength="111.90" lengthAdjust="spacingAndGlyphs">180</text>
<text y="92.8"><tspan x="886.83" textLength="149.34" lengthAdjust="spacingAndGlyphs">Total</tspan> <tspan x="1055.83" textLength="123.25" lengthAdjust="spacingAndGlyphs">gain</tspan> <tspan x="1200.11" textLength="16.03" lengthAdjust="spacingAndGlyphs">[</tspan> <tspan x="1237.15" textLength="93.23" lengthAdjust="spacingAndGlyphs">dBi</tspan> <tspan x="1350.90" textLength="18.00" lengthAdjust="spacingAndGlyphs">]</tspan></text>
<text y="1484.7"><tspan x="954.84" textLength="91.05" lengthAdjust="spacingAndGlyphs">Phi</tspan> <tspan x="1068.47" textLength="15.76" lengthAdjust="spacingAndGlyphs">[</tspan> <tspan x="1105.09" textLength="111.07" lengthAdjust="spacingAndGlyphs">deg</tspan> <tspan x="1232.80" textLength="17.21" lengthAdjust="spacingAndGlyphs">]</tspan></text>
<text y="87.4" transform="rotate(-90)"><tspan x="-961.78" textLength="165.95" lengthAdjust="spacingAndGlyphs">Theta</tspan> <tspan x="-765.26" textLength="17.73" lengthAdjust="spacingAndGlyphs">[</tspan> <tspan x="-730.99" textLength="110.12" lengthAdjust="spacingAndGlyphs">deg</tspan> <tspan x="-603.70" textLength="14.19" lengthAdjust="spacingAndGlyphs">]</tspan></text>
</g>
</svg></body></html>
